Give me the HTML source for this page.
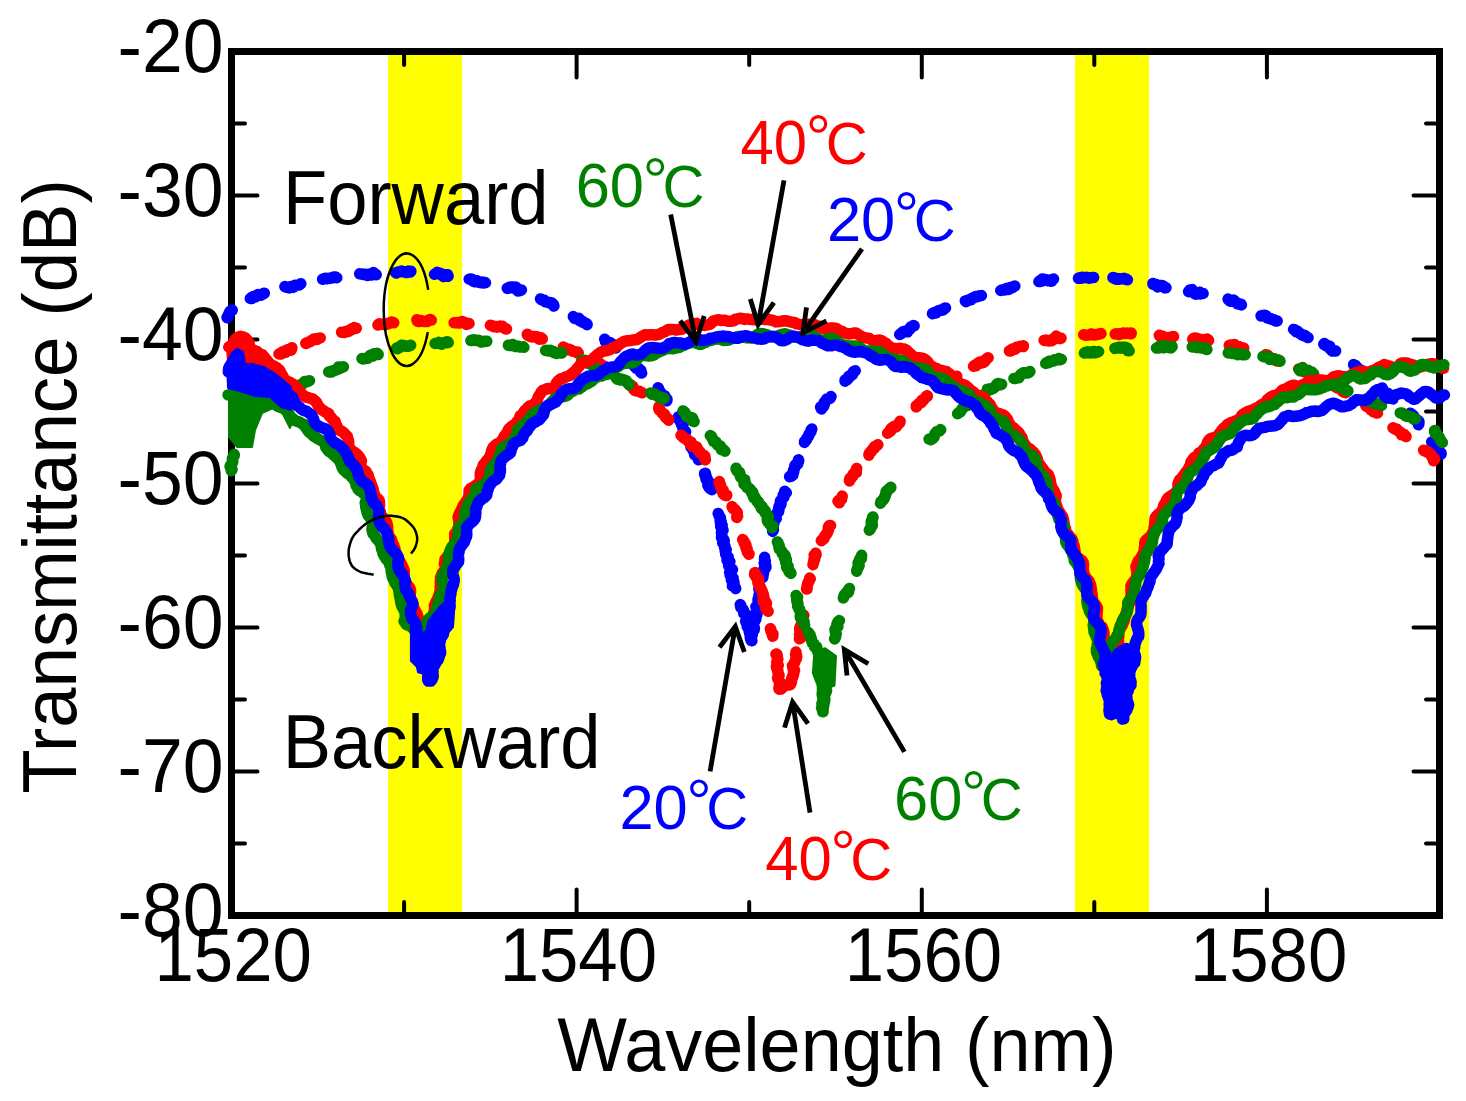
<!DOCTYPE html>
<html><head><meta charset="utf-8"><title>Transmittance vs Wavelength</title>
<style>html,body{margin:0;padding:0;background:#fff;width:1466px;height:1101px;overflow:hidden}</style>
</head><body>
<svg width="1466" height="1101" viewBox="0 0 1466 1101" style="display:block;font-family:&quot;Liberation Sans&quot;,sans-serif"><rect x="0" y="0" width="1466" height="1101" fill="#fff"/>
<rect x="388" y="55" width="74" height="857" fill="#ffff00"/>
<rect x="1075" y="55" width="74" height="857" fill="#ffff00"/>
<rect x="231.5" y="51.5" width="1208" height="864" fill="none" stroke="#000" stroke-width="7"/>
<path d="M404.1 912V902M404.1 55V65M576.6 912V889.5M576.6 55V77.5M749.2 912V902M749.2 55V65M921.8 912V889.5M921.8 55V77.5M1094.3 912V902M1094.3 55V65M1266.9 912V889.5M1266.9 55V77.5M235 843.5H245M1436 843.5H1426M235 771.5H257.5M1436 771.5H1413.5M235 699.5H245M1436 699.5H1426M235 627.5H257.5M1436 627.5H1413.5M235 555.5H245M1436 555.5H1426M235 483.5H257.5M1436 483.5H1413.5M235 411.5H245M1436 411.5H1426M235 339.5H257.5M1436 339.5H1413.5M235 267.5H245M1436 267.5H1426M235 195.5H257.5M1436 195.5H1413.5M235 123.5H245M1436 123.5H1426" stroke="#000" stroke-width="4" stroke-linecap="round" fill="none"/>
<path d="M227.2 317.8 L227.1 317.3 L227.7 317.3 L228.2 316.0 L228.6 314.4 L229.7 312.5 L229.7 311.8 L230.7 310.9 L231.4 310.6 L232.2 310.1M250.3 298.5 L251.7 298.4 L251.9 297.3 L253.0 297.1 L253.4 296.6 L255.0 296.9 L255.7 296.9 L256.6 295.7 L257.0 295.3 L258.2 294.5 L259.2 294.9 L260.3 294.6 L261.0 295.1 L263.0 293.8 L263.3 294.1 L264.3 293.2M284.9 286.6 L286.6 287.3 L288.2 287.6 L289.1 287.9 L290.4 287.1 L291.0 286.6 L292.5 286.7 L293.0 287.4 L293.5 287.1 L294.2 286.1 L295.1 285.2 L297.7 285.0 L299.3 284.9 L300.5 283.7 L300.8 283.8M322.6 279.2 L323.9 278.8 L324.5 278.6 L325.5 278.3 L326.8 278.7 L327.9 278.6 L329.4 278.4 L330.6 277.9 L331.8 278.1 L332.8 277.4 L333.3 277.2 L334.8 276.9 L335.7 277.1 L335.9 277.4 L336.5 277.8 L336.8 277.8M359.7 273.8 L361.5 274.1 L361.7 274.2 L362.9 274.4 L363.2 274.2 L365.4 274.7 L366.3 274.3 L367.4 275.6 L367.8 274.9 L368.8 275.0 L369.6 274.1 L371.2 275.0 L372.2 274.5 L373.2 273.4 L373.4 272.6 L374.6 273.7 L376.2 274.7M395.7 272.8 L396.3 273.0 L397.6 272.2 L399.1 271.9 L401.0 271.3 L401.7 271.1 L402.9 271.7 L403.3 271.8 L404.1 271.7 L404.9 271.9 L406.1 272.5 L406.8 272.0 L407.5 272.4 L408.2 271.1 L410.3 272.0 L410.9 271.2M434.5 274.2 L435.6 273.6 L436.9 272.9 L437.3 272.4 L438.9 273.0 L440.3 273.5 L441.1 274.9 L441.8 274.4 L442.3 274.2 L443.2 274.4 L443.2 275.8 L443.5 276.6 L444.7 275.0 L446.3 274.7 L447.6 274.8 L448.1 276.3M469.2 279.1 L471.1 278.9 L472.4 279.6 L473.2 280.8 L473.6 281.6 L474.4 281.7 L475.3 281.1 L476.3 281.3 L477.1 280.7 L476.5 281.3 L477.8 281.5 L478.5 282.1 L480.8 282.7 L482.4 282.1 L483.6 282.9 L485.2 282.5 L485.5 282.8M507.2 288.2 L507.4 288.4 L507.8 288.3 L509.6 287.2 L511.5 287.0 L513.4 287.0 L513.4 288.2 L514.0 288.2 L514.5 288.0 L515.8 287.1 L516.2 288.5 L517.2 289.7 L517.8 290.8 L519.4 290.2 L519.9 290.7 L521.4 289.9M540.5 298.9 L542.0 299.9 L542.9 300.1 L544.3 300.3 L544.8 300.6 L545.1 301.6 L545.7 301.4 L547.1 302.2 L548.3 302.4 L549.1 303.0 L550.1 302.8 L550.4 302.6 L551.8 302.9 L552.3 303.5 L553.4 304.4 L553.9 306.1M573.3 316.5 L573.7 316.9 L574.5 318.4 L575.4 318.3 L577.3 318.7 L578.7 318.3 L579.6 319.5 L579.6 320.8 L580.5 320.7 L582.0 321.8 L582.6 321.4 L583.4 322.6 L584.6 322.9 L586.5 323.6 L587.1 324.1 L587.1 324.7M604.7 339.3 L605.5 339.9 L605.4 340.5 L605.5 340.8 L605.5 341.7 L606.3 342.5 L608.4 342.5 L610.2 342.5 L611.2 343.5 L611.0 344.5 L611.6 345.2 L612.9 345.0 L614.1 344.8 L614.7 345.1 L615.1 346.5 L616.1 347.9M630.9 361.5 L632.2 362.2 L633.5 362.8 L634.1 363.6 L634.7 364.8 L634.3 366.1 L635.4 367.0 L636.3 368.4 L637.9 368.6 L638.4 368.3 L638.6 368.4 L639.5 369.2 L639.9 370.2 L640.9 370.3 L640.3 371.8 L641.7 373.1M658.1 387.8 L658.5 388.4 L658.2 389.4 L659.2 390.2 L659.7 391.5 L660.5 392.2 L660.8 393.6 L661.6 393.8 L662.0 394.5 L662.2 394.7 L663.2 395.2 L663.7 396.0 L664.8 396.0 L665.5 398.1 L667.0 399.2 L666.9 400.5 L666.8 400.8M678.5 416.9 L678.4 418.7 L679.0 419.4 L679.7 420.3 L680.3 420.6 L680.5 421.8 L681.3 423.5 L681.7 425.0 L682.9 425.6 L682.9 424.7 L682.9 425.0 L682.6 426.5 L683.1 428.9 L683.8 430.1 L684.6 431.2 L685.6 431.7M804.5 442.4 L804.6 441.4 L805.8 440.5 L806.6 439.6 L806.8 438.7 L807.0 437.8 L807.6 437.3 L808.4 436.1 L808.7 436.0 L808.9 435.1 L808.9 434.5 L809.8 433.2 L810.4 432.3 L811.0 431.7 L811.0 430.3 L811.8 429.0M821.5 409.0 L821.4 407.7 L820.6 407.1 L821.6 406.2 L823.4 406.7 L823.7 405.4 L824.4 404.3 L824.2 402.7 L824.6 402.2 L825.4 401.5 L826.0 400.3 L826.7 399.1 L827.6 399.1 L828.3 399.0 L830.1 398.2 L831.0 396.5M845.0 381.3 L845.8 380.5 L845.1 380.0 L846.9 379.8 L847.6 379.2 L848.7 377.4 L848.6 376.4 L849.2 376.3 L850.3 376.4 L849.7 375.7 L850.8 375.4 L851.9 374.8 L852.7 374.3 L853.1 372.5 L853.6 371.4 L855.2 370.7M870.6 355.9 L872.0 355.9 L873.1 355.5 L874.0 354.8 L875.0 353.9 L875.7 353.8 L875.9 353.3 L875.9 353.2 L877.1 352.1 L878.2 351.6 L878.8 350.9 L878.9 349.8 L879.4 349.6 L880.5 349.2 L881.9 348.5 L882.7 347.1M899.7 334.5 L900.4 334.1 L901.1 333.7 L902.1 332.6 L903.0 331.8 L904.5 331.4 L906.5 331.7 L907.5 331.8 L908.1 330.3 L908.2 329.7 L909.8 328.6 L910.0 329.0 L910.9 327.8 L911.1 326.7 L912.5 326.3 L913.3 325.5 L914.1 325.9M932.7 313.2 L932.5 313.7 L933.3 312.8 L934.4 312.6 L935.1 312.6 L936.3 312.9 L936.4 312.3 L937.3 311.7 L937.6 311.0 L939.1 310.6 L940.7 310.2 L942.2 310.3 L942.9 309.9 L943.2 309.7 L944.0 308.5 L945.5 308.0M965.3 300.9 L966.2 301.6 L967.5 300.7 L968.6 300.0 L969.9 299.6 L971.1 299.7 L971.6 298.9 L972.2 298.0 L973.3 298.1 L974.1 297.3 L975.8 297.0 L976.0 296.6 L977.3 296.7 L977.9 296.4 L979.9 295.8 L981.4 295.6M1000.8 290.5 L1002.2 289.9 L1004.4 289.9 L1005.3 289.2 L1006.3 288.7 L1006.1 288.6 L1006.9 288.4 L1008.2 289.5 L1008.9 288.5 L1009.8 288.9 L1010.1 287.5 L1011.3 287.8 L1012.1 287.5 L1012.9 287.5 L1013.6 286.5 L1014.8 286.0M1038.9 281.6 L1039.6 281.0 L1039.6 281.6 L1041.8 280.7 L1042.2 281.0 L1042.9 279.8 L1042.2 279.0 L1044.7 279.4 L1046.7 280.2 L1048.3 280.8 L1048.1 280.1 L1049.5 280.4 L1050.3 281.0 L1051.7 281.2 L1051.7 279.9 L1052.2 279.5 L1053.5 278.9M1078.5 278.3 L1080.8 277.5 L1080.7 277.6 L1080.5 277.9 L1081.0 278.1 L1082.2 277.3 L1083.4 277.7 L1083.8 277.5 L1084.4 277.7 L1086.3 277.3 L1087.4 277.4 L1088.4 278.0 L1088.8 278.2 L1090.3 278.1 L1092.3 277.5 L1093.6 277.4M1112.9 277.6 L1113.0 277.6 L1113.8 277.7 L1114.6 278.6 L1116.6 279.3 L1117.4 278.9 L1117.9 278.4 L1117.8 278.6 L1118.2 278.7 L1119.5 279.2 L1122.1 278.7 L1124.0 278.3 L1124.5 278.5 L1124.6 278.8 L1125.7 279.5 L1125.9 278.9 L1127.4 279.7M1152.9 283.4 L1153.0 284.2 L1154.1 283.9 L1154.9 284.3 L1155.8 284.3 L1156.8 286.0 L1157.7 286.9 L1158.9 286.3 L1160.2 285.5 L1161.5 285.4 L1163.3 286.1 L1163.8 286.6 L1164.8 286.9 L1165.2 287.8 L1166.0 287.7M1188.6 291.7 L1189.7 290.2 L1190.7 290.0 L1191.9 289.6 L1192.5 290.8 L1193.9 291.9 L1194.5 293.5 L1195.9 294.3 L1196.8 293.8 L1198.4 293.0 L1199.6 292.2 L1200.0 292.9 L1199.8 293.3 L1200.0 294.0 L1201.3 293.6 L1203.1 293.5M1228.1 299.1 L1228.5 299.7 L1229.5 300.4 L1229.8 301.0 L1231.0 301.3 L1231.9 301.0 L1233.5 300.6 L1233.5 300.1 L1234.6 300.7 L1234.8 302.0 L1237.1 303.0 L1237.7 304.0 L1239.3 303.9 L1240.0 304.0 L1240.4 304.1 L1241.2 304.3 L1241.4 304.9M1261.1 315.9 L1261.8 315.7 L1263.2 315.5 L1265.0 315.3 L1266.1 315.9 L1266.3 316.9 L1267.0 317.8 L1268.1 318.2 L1269.6 318.5 L1270.8 318.7 L1271.9 319.4 L1273.1 319.6 L1273.6 319.9 L1274.3 319.8 L1275.5 320.9 L1277.2 321.0M1293.6 329.4 L1295.3 330.1 L1295.6 330.5 L1296.3 331.3 L1296.1 331.6 L1297.9 331.4 L1298.9 332.7 L1300.4 333.6 L1301.8 334.8 L1303.0 335.1 L1303.9 335.1 L1304.3 335.8 L1304.9 335.6 L1306.6 336.9 L1307.4 337.3 L1308.0 337.6M1323.8 344.3 L1324.4 343.5 L1324.9 344.4 L1325.5 345.3 L1326.5 346.0 L1327.6 345.7 L1328.4 345.7 L1329.8 346.3 L1329.3 347.7 L1329.6 347.3 L1329.3 348.1 L1330.6 349.2 L1331.6 350.4 L1332.7 351.1 L1334.3 350.8 L1335.6 351.0M1353.6 364.6 L1354.1 365.1 L1354.1 365.6 L1354.2 365.8 L1355.6 365.5 L1356.2 367.3 L1357.4 367.8 L1357.5 368.8 L1357.7 369.1 L1358.8 370.5 L1360.0 370.4 L1361.5 370.5 L1362.0 370.6 L1361.8 372.6 L1362.7 373.9 L1363.6 374.6 L1364.5 375.0M1382.2 388.0 L1382.5 388.6 L1382.8 390.2 L1383.3 390.6 L1384.0 391.5 L1384.1 392.2 L1384.8 392.2 L1385.8 392.7 L1388.0 393.4 L1389.9 395.4 L1390.4 396.5 L1390.6 396.6 L1390.9 396.2 L1391.4 396.8 L1392.3 398.0 L1393.0 398.9M1410.3 413.2 L1410.4 413.6 L1411.6 414.2 L1412.5 415.3 L1413.4 415.6 L1413.3 416.7 L1414.1 417.2 L1414.5 418.2 L1415.1 418.7 L1415.2 419.7 L1416.6 419.5 L1417.9 420.5 L1419.0 421.5 L1418.8 424.1 L1418.5 424.8M1431.7 442.0 L1433.1 443.3 L1434.0 444.1 L1435.1 445.2 L1436.0 445.8 L1437.3 447.6 L1438.0 448.2 L1438.1 448.6 L1438.2 448.2 L1438.5 448.9 L1438.1 449.8 L1438.5 451.2 L1439.1 451.5 L1440.0 452.0 L1441.1 453.1 L1441.1 454.2M691.0 446.7 L691.4 446.5 L691.1 447.2 L693.0 448.5 L692.9 450.0 L693.6 449.8 L693.6 450.8 L694.7 451.2 L694.7 453.2 L694.9 454.3 L694.6 454.7 L696.5 456.0 L697.4 456.6 L698.6 458.7 L698.4 459.8 L699.1 459.6 L700.0 459.2M705.4 473.3 L704.6 473.6 L704.8 475.1 L706.2 476.1 L706.3 477.5 L706.8 478.2 L705.9 479.1 L707.4 479.9 L707.0 480.4 L707.4 481.5 L707.8 481.5 L708.8 481.8 L708.9 482.3 L708.8 484.1 L707.9 485.3 L708.7 486.8 L710.0 488.4 L711.9 489.6 L711.9 489.8M718.2 513.5 L718.8 514.7 L719.4 516.6 L720.4 517.8 L720.2 519.0 L720.6 519.8 L720.2 520.9 L721.3 522.1 L720.4 522.8 L721.3 524.0 L722.0 525.2 L722.2 525.3 L721.6 526.3 L720.7 526.6 L722.1 528.6 L722.8 529.6 L723.0 530.3 L722.0 530.6 L721.5 532.3 L721.7 534.2 L721.8 535.4 L722.0 536.0 L721.7 536.3 L721.5 537.6 L722.3 538.5 L722.8 539.9 L724.0 540.1 L724.2 540.8 L724.3 541.4 L723.3 542.3 L722.7 542.9 L724.0 544.1 L724.8 545.7 L725.0 546.5 L725.0 547.9 L724.7 548.3 L726.1 549.6 L725.2 551.0 L726.0 552.6 L725.7 554.3 L726.2 555.3 L726.6 556.4 L727.5 556.7 L728.2 557.1 L727.9 558.5 L727.1 560.3 L728.0 561.2 L728.5 561.7 L729.9 561.5 L729.1 562.2 L729.2 564.1 L728.6 565.6 L729.2 566.8 L730.6 567.9 L731.2 568.5 L732.5 569.5 L731.5 569.5 L731.6 571.2 L729.7 572.3 L730.3 573.9 L730.1 575.1 L731.3 576.4 L732.4 577.3 L733.1 578.0 L732.8 578.8 L731.4 578.6 L731.4 579.7 L732.0 579.9 L733.3 581.2 L733.9 581.8 L734.0 583.5 L732.7 584.8 L732.5 585.9 L733.7 586.3 L735.2 587.5 L735.7 588.6M740.3 604.6 L740.8 605.6 L741.0 606.8 L740.8 607.3 L741.4 608.1 L741.5 607.7 L742.8 609.3 L743.5 610.2 L743.9 612.3 L743.8 613.3 L744.9 613.7 L745.4 614.5 L746.6 615.0 L746.4 616.3 L747.0 617.9 L746.8 619.1 L746.2 620.6 L745.7 621.1 L745.9 622.2 L747.1 623.0 L747.9 624.6 L747.8 625.3 L747.5 625.4 L747.2 626.5 L747.5 626.7 L748.0 628.0 L748.5 628.3 L749.0 629.8 L749.3 631.6 L749.7 633.4 L750.1 634.8 L751.1 635.7 L751.1 636.8 L751.5 638.3 L751.0 639.3 L751.6 640.0 L751.1 640.4 L751.8 640.8 L751.6 640.6 L751.5 639.0 L750.3 638.1 L750.6 636.8 L751.0 636.2 L751.4 635.3 L752.4 634.3 L752.1 633.1 L752.8 631.9 L752.8 631.1 L754.2 629.8 L754.4 628.1 L754.0 627.0 L753.7 625.4 L753.0 625.0 L753.2 623.4 L753.2 623.1 L754.1 621.9 L754.3 621.3 L755.1 620.5 L755.8 619.1 L755.9 618.6 L755.4 617.4 L755.0 616.9 L755.7 615.7 L756.5 615.2 L757.0 614.6 L757.0 612.8 L756.9 612.2 L756.5 611.1 L756.8 610.6 L757.5 609.4 L757.6 608.7 L757.2 607.5 L755.9 606.8 L757.3 605.4 L757.7 604.7 L759.0 602.9M755.7 615.7 L756.5 615.2 L757.0 614.6 L757.0 612.8 L756.9 612.2 L756.5 611.1 L756.8 610.6 L757.5 609.4 L757.6 608.7 L757.2 607.5 L755.9 606.8 L757.3 605.4 L757.7 604.7 L759.0 602.9 L758.1 602.1 L758.5 600.9 L758.2 600.3 L758.0 599.8 L758.2 599.1 L758.4 598.1 L758.9 596.5 L759.1 594.3 L760.4 593.2 L760.4 591.2 L760.2 590.6 L759.0 589.5 L758.9 589.3 L759.4 588.1 L759.5 586.6M762.9 577.3 L762.8 575.2 L763.4 573.8 L762.8 572.8 L762.7 573.5 L762.5 572.2 L763.2 571.0 L763.9 569.2 L765.1 568.6 L766.0 567.2 L765.7 565.4 L765.1 563.7 L764.2 563.2 L764.8 562.2 L765.0 561.4 L765.3 560.9 L764.7 560.1 L764.6 558.9 L764.6 557.2M772.7 531.4 L773.4 529.9 L773.2 528.7 L773.3 527.7 L772.7 527.1 L772.8 526.2 L772.7 525.5 L773.7 524.3 L773.8 523.7 L773.8 522.3 L773.5 521.7 L773.8 520.1 L774.8 520.3 L775.2 519.4 L776.2 518.7 L775.7 517.1 L775.8 515.7 L776.1 514.9 L776.4 513.7 L777.2 513.4 L777.5 512.6 L778.5 511.7 L778.9 509.8 L778.7 508.3 L778.9 507.2 L779.2 506.2 L780.3 505.4 L781.0 504.5 L781.0 503.8 L780.8 503.0 L780.3 501.8 L780.5 500.8 L781.7 499.6 L782.9 498.1 L783.7 497.3 L784.2 496.2 L783.9 496.2 L783.1 495.3 L783.8 494.8 L784.4 493.9 L786.3 492.7 L785.1 492.1 L784.7 491.3M789.6 476.7 L791.1 476.4 L791.4 475.8 L792.8 475.1 L792.6 473.5 L793.7 472.0 L793.4 470.6 L794.2 469.2 L794.2 469.0 L794.5 468.4 L794.8 467.5 L794.6 467.0 L795.2 465.0 L796.1 464.5 L796.7 463.4 L797.6 464.2 L798.0 462.6 L798.7 460.8 L798.5 459.8" fill="none" stroke="#0000ff" stroke-width="11.5" stroke-linecap="round" stroke-linejoin="round"/>
<path d="M243.5 368.4 L244.2 368.2 L245.3 366.9 L246.0 366.4 L246.1 365.9 L246.8 365.7 L248.5 366.0 L250.4 365.6 L251.6 365.0 L252.2 364.4 L252.2 364.0 L252.7 364.4 L253.3 363.7 L255.1 362.8 L256.5 362.0 L257.8 361.4M279.0 354.0 L279.9 353.6 L280.9 354.1 L280.8 353.4 L282.2 353.3 L282.7 351.7 L284.2 352.0 L284.8 352.4 L285.6 352.3 L285.5 350.9 L286.6 350.0 L287.9 349.7 L290.1 350.3 L291.1 350.1 L291.5 349.2 L291.6 348.1 L291.9 347.7M305.8 343.4 L307.2 343.0 L308.2 342.3 L308.7 341.9 L309.6 341.8 L310.2 341.8 L311.1 341.0 L312.1 340.2 L313.7 339.2 L314.5 338.9 L316.0 338.8 L316.4 338.8 L317.1 339.5 L316.9 339.4 L318.5 338.5 L320.2 337.9M341.6 332.2 L343.1 332.3 L344.5 332.5 L345.6 331.4 L347.1 331.7 L348.0 330.9 L348.9 331.3 L349.7 330.0 L351.0 329.6 L351.9 328.8 L352.3 329.3 L352.8 329.1 L353.8 328.7 L354.5 327.8 L355.4 328.3 L356.3 328.2M377.9 325.0 L379.2 323.8 L380.2 324.1 L382.2 324.4 L381.8 324.2 L382.7 324.2 L382.6 324.3 L385.0 324.6 L386.4 324.2 L387.6 323.9 L388.5 323.2 L389.9 323.2 L390.8 322.3 L391.4 322.0 L390.8 322.3 L392.0 322.4 L393.7 322.7M416.9 319.7 L417.4 321.2 L418.3 321.6 L419.3 321.5 L420.4 320.8 L421.0 320.6 L421.8 321.2 L422.5 321.1 L424.4 321.5 L426.0 321.4 L426.9 321.5 L427.2 321.5 L427.7 320.7 L428.7 320.3 L429.9 319.5 L430.3 320.2 L431.3 320.1M454.1 322.8 L455.3 322.8 L456.7 322.6 L457.7 322.7 L458.4 322.6 L458.8 323.1 L459.4 323.0 L460.3 322.2 L461.9 321.5 L463.5 322.1 L464.7 322.3 L465.4 323.3 L466.1 323.5 L466.5 324.3 L467.9 323.8 L469.0 323.6M490.4 325.3 L490.9 325.4 L492.9 326.2 L493.8 326.8 L495.4 326.4 L496.1 326.6 L496.8 326.6 L497.3 327.1 L498.3 326.8 L499.5 326.5 L500.1 326.5 L500.6 326.1 L501.0 326.6 L502.3 326.3 L503.9 327.7 L505.3 328.8 L506.5 329.0M527.3 334.3 L527.5 335.1 L528.7 335.6 L529.5 335.8 L530.8 336.7 L531.7 336.3 L532.9 336.9 L534.1 336.5 L535.7 336.7 L537.0 336.8 L537.5 337.3 L538.5 338.7 L539.1 339.2 L541.0 338.7 L541.1 337.7 L542.3 338.9M563.3 347.1 L564.5 347.9 L565.0 348.0 L565.9 349.2 L567.1 349.2 L568.6 349.7 L569.2 349.4 L569.6 349.7 L569.9 350.1 L571.0 349.9 L572.0 351.0 L572.5 351.2 L574.6 351.6 L576.3 352.0 L577.4 352.0 L577.6 352.9 L578.3 352.8M597.0 364.1 L597.9 364.1 L599.4 363.7 L600.3 363.8 L600.4 363.9 L600.4 364.8 L601.4 365.3 L603.8 366.0 L604.7 366.9 L606.3 367.8 L605.5 368.3 L607.4 368.2 L607.4 369.2 L609.4 369.6 L609.6 369.8 L611.7 371.1M629.4 384.9 L630.8 385.2 L630.9 385.8 L631.2 386.4 L631.2 386.2 L631.9 386.1 L632.8 386.3 L633.4 388.0 L633.7 389.4 L635.1 390.6 L636.7 390.9 L638.2 391.4 L639.3 391.2 L639.9 391.7 L640.8 392.2 L642.1 392.8M659.0 406.6 L659.2 407.5 L658.7 408.4 L659.3 409.8 L659.4 410.0 L660.6 411.1 L661.0 411.3 L662.6 413.4 L664.0 413.9 L664.9 414.9 L664.7 415.7 L665.1 416.7 L666.2 417.9 L667.8 418.8 L668.7 419.3 L668.6 420.2M681.0 435.3 L682.6 436.6 L683.3 437.5 L684.3 438.1 L686.1 439.2 L687.3 439.4 L687.9 440.3 L688.0 441.0 L688.9 442.1 L689.0 441.3 L690.5 442.3 L691.1 442.2 L692.1 444.7 L690.9 444.9 L692.0 446.3 L693.6 446.3M887.6 433.2 L889.4 431.9 L890.0 431.0 L890.7 431.0 L890.2 430.4 L890.9 428.9 L892.3 427.7 L893.8 426.6 L894.6 427.1 L895.2 426.9 L896.2 426.9 L897.2 425.5 L897.6 424.4 L898.1 424.0 L898.7 423.7 L899.7 422.7 L900.1 421.2M916.2 406.9 L916.7 406.4 L916.4 405.7 L918.2 404.5 L919.7 402.7 L921.4 402.5 L921.5 402.2 L921.1 401.7 L922.0 400.2 L922.2 400.0 L923.6 400.1 L924.2 399.0 L925.6 397.2 L926.7 396.0 L927.3 395.8 L927.4 396.3M944.0 384.8 L944.9 382.9 L945.4 382.2 L945.3 381.2 L946.6 382.2 L948.3 382.2 L949.1 382.1 L949.2 381.4 L949.4 380.2 L950.5 379.4 L951.7 379.1 L953.6 379.1 L955.0 378.7 L955.9 378.5 L955.4 377.8 L955.8 377.4 L956.8 376.3M973.5 366.3 L974.8 365.3 L976.1 365.6 L977.3 363.7 L978.3 363.3 L979.6 362.1 L980.9 362.2 L980.9 362.4 L981.2 362.7 L981.6 362.9 L983.6 362.4 L985.0 361.2 L985.3 360.4 L985.3 359.7 L986.0 359.4 L987.1 358.4 L988.1 357.8M1009.4 350.9 L1011.0 350.9 L1011.4 349.8 L1012.4 350.0 L1012.6 349.1 L1013.9 349.1 L1014.5 348.8 L1015.1 349.2 L1015.3 348.9 L1016.0 348.3 L1016.4 347.7 L1016.6 347.3 L1018.5 347.0 L1020.6 346.2 L1023.2 346.6 L1023.4 345.8M1044.1 340.4 L1045.9 340.1 L1047.4 340.8 L1049.4 340.9 L1050.6 340.4 L1051.1 339.9 L1051.4 339.8 L1051.3 340.8 L1052.3 340.4 L1053.7 339.4 L1055.2 337.3 L1056.1 336.3 L1056.8 336.8 L1057.9 338.0 L1060.1 338.6 L1061.0 338.2M1083.7 334.7 L1084.2 334.8 L1084.9 335.0 L1086.2 335.2 L1089.1 335.0 L1090.4 334.7 L1091.5 334.4 L1091.4 333.9 L1091.8 334.2 L1093.1 334.5 L1094.0 334.9 L1094.4 335.0 L1095.2 334.9 L1097.1 334.5 L1099.6 333.9 L1101.0 333.6M1115.2 334.0 L1116.3 333.7 L1117.5 334.1 L1117.8 334.2 L1118.9 334.5 L1119.5 334.3 L1120.0 334.3 L1120.3 333.6 L1122.2 333.4 L1123.1 333.2 L1124.2 333.5 L1123.5 333.2 L1125.4 333.5 L1127.3 333.1 L1130.1 333.5 L1131.2 332.9 L1131.1 333.8 L1130.8 333.7M1159.3 335.3 L1160.0 336.2 L1160.2 336.1 L1161.9 337.1 L1163.0 336.5 L1163.8 337.4 L1163.7 337.2 L1164.3 338.0 L1165.3 337.9 L1166.7 337.7 L1168.3 337.6 L1168.8 337.6 L1171.0 337.8 L1171.9 336.9 L1173.5 336.5 L1173.4 336.6M1192.7 339.1 L1193.3 338.6 L1193.5 338.7 L1194.5 338.1 L1196.8 338.2 L1197.9 338.8 L1199.1 339.1 L1199.6 339.8 L1200.6 339.8 L1201.0 339.9 L1201.1 339.4 L1201.7 339.8 L1202.8 340.0 L1204.1 340.4 L1205.5 339.7 L1207.0 339.0 L1208.6 340.3M1229.3 345.3 L1231.4 344.9 L1233.9 345.2 L1234.4 344.5 L1235.8 345.8 L1235.7 346.2 L1237.6 347.1 L1237.4 346.7 L1238.7 346.6 L1238.6 347.2 L1239.0 347.2 L1240.1 347.5 L1241.6 347.6 L1243.7 348.1 L1243.4 348.4 L1243.0 347.9M1265.7 354.8 L1267.1 354.9 L1268.0 355.5 L1268.8 356.8 L1269.0 356.6 L1269.5 357.3 L1269.9 357.2 L1271.7 358.7 L1273.4 358.5 L1274.8 359.6 L1275.1 359.4 L1274.9 359.4 L1275.2 360.1 L1275.8 360.5 L1277.5 361.1 L1279.3 360.6M1298.7 368.9 L1299.8 369.5 L1301.5 369.8 L1302.0 370.4 L1302.8 370.6 L1303.8 371.5 L1304.6 371.8 L1305.7 372.0 L1307.0 372.1 L1308.5 373.3 L1309.5 373.1 L1309.4 373.6 L1309.7 373.4 L1310.2 374.8 L1312.1 374.5 L1313.3 374.7 L1313.7 374.8M1332.7 384.9 L1334.1 385.0 L1334.1 385.6 L1335.5 386.6 L1335.8 387.2 L1337.2 387.9 L1337.5 387.7 L1338.6 388.4 L1339.5 388.5 L1340.5 388.8 L1341.7 389.8 L1342.7 391.4 L1343.8 392.1 L1343.7 392.2 L1344.3 392.1 L1345.5 392.7M1365.6 405.3 L1366.9 406.7 L1366.4 406.5 L1366.9 406.4 L1367.6 406.3 L1369.5 408.0 L1370.4 408.8 L1371.1 410.0 L1371.6 409.6 L1372.2 409.9 L1372.3 410.2 L1373.0 411.1 L1373.5 411.8 L1375.2 412.1 L1376.2 413.0 L1377.5 413.0M1393.0 427.8 L1394.5 428.7 L1395.8 429.0 L1396.4 429.1 L1396.8 429.2 L1396.5 429.7 L1396.9 430.0 L1398.0 430.6 L1400.0 432.1 L1401.2 432.9 L1401.4 434.7 L1402.0 434.3 L1403.1 434.7 L1404.4 434.6 L1404.8 435.3 L1406.1 436.6M1423.6 450.3 L1424.4 450.9 L1425.2 450.9 L1424.6 450.6 L1425.4 450.5 L1426.8 452.0 L1428.3 452.0 L1429.2 453.2 L1429.2 452.8 L1430.6 454.4 L1431.3 455.8 L1433.0 457.6 L1433.0 458.4 L1434.4 458.6 L1434.5 459.4 L1433.8 459.9 L1433.6 460.7M799.4 638.8 L801.0 637.7 L800.1 636.6 L800.0 635.5 L799.5 634.8 L800.2 633.4 L799.9 632.7 L799.9 631.9 L799.8 630.6 L800.0 629.9 L799.9 628.7 L799.7 628.4 L800.2 626.8 L800.7 625.7 L801.2 624.9 L801.6 624.0 L802.5 623.3 L803.0 622.0 L803.5 620.6 L802.3 619.1 L802.6 617.8 L802.9 617.2 L803.2 616.4 L803.8 615.4 L802.9 614.5M692.0 446.3 L693.6 446.3 L696.4 446.7 L696.2 447.4 L697.2 448.0 L697.4 448.9 L698.2 450.0 L699.0 451.2 L699.1 451.6 L699.8 451.6 L700.0 451.9 L700.3 453.1 L701.4 453.9 L701.8 454.3 L703.2 455.0 L704.0 455.5 L704.9 456.4 L704.5 457.4 L705.0 458.9 L705.4 459.8M719.4 481.6 L718.8 482.2 L719.6 483.1 L719.6 483.6 L720.3 484.6 L720.6 485.3 L720.7 487.1 L721.3 488.3 L721.7 489.3 L722.5 489.5 L723.1 490.1 L722.1 491.1 L722.8 492.2 L723.2 494.0 L725.4 495.4 L726.2 495.1 L726.7 495.1 L726.5 495.6M732.1 506.6 L732.7 507.8 L733.0 508.4 L733.4 508.8 L734.9 509.5 L736.1 511.1 L737.3 512.5 L737.3 514.0 L737.3 515.7 L737.6 516.2 L737.2 515.7 L737.0 516.3 L736.8 517.4M742.7 539.6 L744.2 541.8 L744.0 542.9 L745.5 544.1 L745.0 543.9 L745.8 545.0 L745.4 545.4 L745.8 546.8 L746.0 547.8 L747.1 548.8 L746.8 550.0 L747.4 551.5 L747.5 552.5 L749.0 553.8 L748.9 554.3M754.8 572.6 L754.9 573.5 L754.6 574.9 L756.0 576.2 L756.2 577.2 L757.4 577.2 L758.1 577.8 L758.5 579.1 L758.5 580.6 L757.9 580.5 L757.9 581.3 L757.9 582.8 L758.7 584.9 L758.8 585.2 L759.9 586.3 L760.2 586.9 L760.7 588.6 L760.5 588.5 L761.2 589.1 L761.5 589.9 L762.1 591.0 L762.6 592.8 L763.3 594.4 L763.2 594.6 L763.1 595.8 L763.6 596.0 L764.1 598.2 L763.5 598.3 L763.1 600.1 L763.1 601.5 L764.1 602.0 L765.6 601.8 L766.3 602.8 L766.4 603.9 L766.2 605.3 L765.7 605.1 L766.0 607.0 L765.8 608.2 L767.2 610.2 L768.2 611.3M770.4 628.7 L770.7 629.2 L771.0 631.2 L771.8 633.0 L773.0 634.0 L772.3 634.8 L772.8 636.2M776.2 654.0 L775.9 654.2 L777.0 654.6 L777.0 654.7 L777.3 656.0 L777.4 658.0 L777.8 659.3 L777.2 660.3 L777.1 660.8 L776.8 662.4 L777.5 664.1 L778.0 664.9 L778.1 665.1 L777.5 665.5 L776.4 666.6 L776.8 668.2 L777.2 669.2 L777.8 669.9 L777.7 671.1 L778.1 672.5 L778.1 673.7 L778.8 674.5 L779.0 675.1 L779.0 676.0 L778.0 677.2 L777.6 678.3 L778.3 679.7 L779.2 681.0 L779.9 682.1 L779.6 684.4 L779.5 685.8 L779.4 687.5 L779.0 687.1 L779.0 687.9 L778.9 688.3 L779.4 689.2 L779.0 688.9 L779.3 688.6 L779.7 688.8 L780.6 689.1 L781.3 688.9 L782.3 687.7 L783.8 686.6 L784.8 685.7 L786.1 685.3 L787.6 684.8 L789.0 685.0 L789.8 684.7 L790.4 684.5 L791.2 682.6 L791.5 682.1 L791.5 680.7 L791.6 679.3 L791.7 679.2 L791.6 678.9 L792.0 678.5 L792.1 677.1 L793.0 676.6 L793.2 675.2 L793.7 673.8 L793.5 672.0 L794.2 670.7 L794.6 670.4 L793.9 669.6 L793.9 669.6 L792.9 667.9 L793.3 666.4 L792.6 665.6 L793.5 664.5 L794.0 664.1 L794.7 661.9 L795.5 660.4 L795.7 659.3 L796.3 658.6 L796.0 658.6 L796.5 658.0 L796.4 657.4 L796.7 656.4 L796.6 655.8 L795.6 654.5 L796.1 653.5 L796.0 652.1M806.6 589.1 L807.0 588.9 L806.9 588.1 L806.9 587.4 L807.2 586.1 L807.6 584.0 L807.8 583.6 L808.1 582.3 L809.0 581.4 L809.6 579.1 L810.2 578.9 L809.7 578.1M813.0 564.7 L813.3 562.8 L813.7 562.5 L813.8 560.9 L813.9 560.4 L814.0 559.2 L814.8 559.0 L815.0 557.0 L814.4 555.7 L814.2 555.0 L815.3 555.2 L815.6 555.9 L816.1 554.7 L815.8 553.2M821.3 540.7 L821.8 540.1 L822.7 539.7 L823.2 538.9 L824.1 538.4 L824.3 537.1 L824.8 536.3 L825.7 534.7 L826.2 534.7 L826.6 533.8 L827.3 533.0 L827.8 531.3 L828.5 530.0 L828.2 529.1 L828.2 528.5 L828.4 527.2 L828.7 526.5 L829.3 525.5 L830.6 525.5M839.3 502.8 L838.0 501.1 L838.9 501.2 L839.1 500.1 L840.7 499.4 L841.6 499.2 L841.7 497.6 L842.0 497.4 L842.2 496.1M849.5 480.9 L849.5 479.5 L850.1 479.0 L850.1 478.4 L851.9 477.4 L852.2 476.2 L852.7 476.1 L852.7 475.4 L853.2 474.2 L854.3 473.1 L855.8 472.5 L856.3 472.3 L856.1 471.0 L856.3 470.2 L856.6 468.4M868.9 455.2 L868.9 454.5 L869.7 452.9 L870.3 452.3 L871.0 451.9 L871.5 450.9 L872.2 450.1 L873.1 448.7 L874.2 448.2 L874.1 447.6 L874.4 446.9 L875.3 446.4 L877.8 444.7" fill="none" stroke="#ff0000" stroke-width="11.5" stroke-linecap="round" stroke-linejoin="round"/>
<path d="M231.3 470.7 L232.0 469.7 L231.7 468.2 L231.4 467.6 L230.7 467.4 L230.2 467.0 L230.1 466.1 L230.8 464.9 L232.0 463.3 L232.8 461.8 L232.5 460.6 L232.5 459.4 L232.4 458.4 L233.2 456.9 L234.1 456.0 L234.3 454.8 L234.2 454.4M242.4 435.5 L243.3 434.2 L243.2 433.1 L243.4 432.3 L243.9 432.1 L245.1 430.4 L245.0 429.4 L245.5 427.5 L246.1 427.1 L246.8 426.1 L247.3 425.3 L247.7 424.6 L247.9 423.5 L247.2 423.0 L247.4 421.8 L248.1 421.0M261.2 403.9 L263.2 404.0 L264.1 403.7 L265.5 402.5 L265.7 402.2 L265.9 401.3 L266.3 400.8 L266.8 399.7 L268.2 399.1 L268.5 398.8 L269.9 398.5 L270.8 398.1 L272.7 398.0 L273.1 397.0 L273.4 395.2 L273.1 395.1M294.9 387.4 L295.3 387.0 L295.9 386.5 L297.2 386.0 L299.3 385.2 L300.9 384.6 L302.1 384.4 L302.3 384.4 L303.3 382.7 L304.0 382.4 L304.9 381.4 L305.3 381.7 L306.7 381.8 L307.8 381.4 L308.7 381.0 L309.5 380.7M328.7 372.0 L330.1 371.8 L331.6 372.0 L332.6 370.7 L333.0 370.7 L333.6 370.5 L334.4 370.6 L336.4 369.7 L337.9 369.2 L338.8 368.2 L339.0 367.0 L338.4 366.9 L339.8 367.7 L340.7 368.0 L342.7 367.1 L343.4 366.8M362.0 358.6 L363.0 358.9 L365.4 358.5 L367.1 358.1 L368.0 358.2 L368.9 357.2 L369.4 356.5 L370.1 355.3 L370.5 355.6 L371.7 355.9 L372.6 356.1 L373.5 355.4 L374.2 353.7 L375.5 354.0 L377.1 353.3 L378.2 354.5M396.6 348.0 L397.1 347.8 L397.3 348.8 L398.0 347.5 L399.7 347.6 L401.2 346.0 L401.3 346.1 L401.5 345.3 L401.9 345.2 L404.1 345.6 L405.7 345.9 L406.5 346.3 L407.4 346.2 L408.1 346.3 L409.7 345.7 L410.2 345.4 L410.7 345.3M435.1 343.5 L435.8 343.2 L436.6 343.2 L437.9 343.2 L438.9 342.5 L439.7 343.2 L440.2 343.8 L441.7 344.2 L442.7 343.0 L443.7 342.8 L444.4 342.5 L445.7 342.4 L446.8 341.7 L447.7 341.7 L447.5 342.8 L448.2 342.5M470.9 340.5 L471.5 340.4 L472.2 340.0 L473.0 340.4 L474.4 339.8 L476.2 340.5 L477.9 340.4 L478.3 340.3 L479.4 340.6 L479.5 341.0 L481.3 342.1 L481.9 341.9 L483.3 341.5 L484.1 341.3 L484.9 341.4 L486.8 341.3M508.4 345.2 L509.5 345.3 L510.2 345.6 L512.1 344.8 L512.3 344.7 L512.6 344.5 L512.6 345.7 L514.8 346.2 L515.8 346.6 L517.2 346.2 L517.3 346.4 L518.2 346.5 L519.4 347.0 L520.7 346.9 L522.4 347.0 L523.3 346.8 L523.9 347.3M545.6 350.5 L546.6 350.3 L548.1 350.9 L549.7 350.2 L551.3 350.8 L551.2 351.0 L551.6 350.7 L551.6 350.9 L553.0 351.1 L553.7 352.6 L555.3 352.9 L556.0 353.5 L556.3 353.4 L557.3 353.2 L558.8 353.1 L560.9 352.2 L561.9 353.0M581.7 360.6 L582.6 360.8 L584.7 360.3 L585.4 361.3 L586.5 361.7 L586.2 361.9 L586.8 362.7 L587.5 363.2 L588.6 363.4 L589.8 362.8 L590.6 363.9 L591.5 364.5 L592.4 365.4 L593.1 365.6 L593.9 367.2 L595.0 368.0M615.7 377.1 L616.4 378.3 L617.3 379.2 L618.5 379.1 L619.1 378.7 L619.8 379.8 L620.4 380.0 L621.0 379.7 L622.1 379.2 L623.0 379.6 L624.8 380.0 L625.7 381.0 L626.4 380.8 L626.8 382.4 L627.8 383.1 L628.9 384.5 L629.5 384.2M650.6 392.9 L651.2 393.5 L652.2 394.2 L653.6 394.3 L654.0 393.8 L654.2 393.7 L654.1 393.7 L655.6 395.0 L657.2 395.8 L658.6 396.9 L659.5 396.5 L659.8 396.8 L661.5 397.9 L662.7 398.9 L663.9 398.0 L664.2 398.3M683.6 411.3 L683.0 410.9 L683.9 411.9 L684.8 412.4 L685.6 413.8 L686.0 414.8 L686.4 416.3 L687.9 416.3 L688.7 417.3 L690.2 417.4 L691.0 417.6 L692.6 418.1 L692.9 419.1 L692.5 420.8 L692.8 421.0 L694.1 421.6M710.3 435.6 L710.8 435.9 L711.6 436.6 L712.5 438.8 L713.5 440.2 L713.7 441.4 L715.0 441.5 L715.2 442.2 L716.0 441.9 L715.6 442.5 L716.4 443.1 L717.6 445.0 L719.1 445.8 L719.9 445.9 L720.0 445.8 L720.5 446.1 L721.1 447.6M929.1 439.0 L929.8 439.3 L931.0 439.7 L931.8 438.9 L933.1 438.3 L933.4 437.5 L934.1 436.9 L934.7 435.0 L935.0 433.6 L936.7 431.8 L937.3 431.6 L938.6 431.2 L939.4 431.0 L939.9 430.6 L940.5 429.7 L940.7 429.8M957.6 413.8 L957.8 413.6 L959.2 412.5 L959.3 412.5 L960.2 412.0 L960.2 411.5 L961.1 410.6 L961.4 409.9 L961.5 409.7 L962.9 407.9 L964.1 407.0 L965.7 405.5 L967.4 405.6 L968.5 403.9 L969.5 403.9 L969.4 404.0M986.7 391.4 L987.4 390.6 L987.5 389.2 L989.2 389.1 L989.7 388.9 L990.5 389.5 L990.9 389.1 L993.1 388.5 L994.4 387.5 L995.9 386.2 L996.0 385.4 L997.0 384.1 L997.6 383.6 L998.3 383.5 L999.0 384.1 L1000.3 384.8 L1001.6 384.3M1013.9 378.5 L1015.7 378.4 L1017.3 377.7 L1018.8 377.8 L1019.1 377.1 L1019.7 376.2 L1020.3 375.1 L1021.1 374.2 L1022.4 373.6 L1023.4 372.8 L1025.3 372.8 L1026.5 372.8 L1027.7 373.1 L1028.4 372.6 L1029.2 372.3 L1029.9 371.5M1045.7 363.5 L1046.8 362.5 L1048.6 362.8 L1049.5 361.7 L1049.4 361.2 L1049.9 361.2 L1051.6 361.2 L1053.6 361.0 L1053.8 360.3 L1054.6 359.7 L1055.9 360.2 L1058.2 359.0 L1058.9 359.3 L1059.0 358.4 L1060.0 359.7 L1061.3 359.3M1084.4 353.1 L1085.6 352.3 L1087.4 352.2 L1087.4 351.8 L1087.9 352.1 L1087.6 352.5 L1089.8 352.8 L1090.9 352.9 L1092.5 351.7 L1093.4 351.5 L1094.3 351.4 L1094.0 352.2 L1094.7 352.8 L1095.9 352.6 L1098.6 351.6M1114.9 348.2 L1115.1 348.5 L1117.2 347.7 L1117.5 347.4 L1119.1 347.3 L1119.1 347.9 L1120.1 347.8 L1120.6 348.1 L1121.6 347.7 L1122.5 347.3 L1124.4 347.2 L1125.7 347.4 L1126.8 348.0 L1127.3 348.2 L1127.3 349.1 L1127.0 349.6 L1127.8 350.6 L1129.1 350.8M1156.5 348.1 L1157.8 347.5 L1159.0 348.0 L1158.9 346.6 L1160.1 346.1 L1161.1 346.6 L1162.7 347.7 L1163.3 347.8 L1164.7 346.9 L1166.2 345.8 L1167.5 346.3 L1168.6 346.4 L1168.9 347.6 L1170.0 347.8 L1170.9 347.9 L1172.1 346.6M1192.2 347.0 L1193.7 347.0 L1194.9 346.9 L1196.8 347.6 L1197.5 347.5 L1198.0 347.5 L1198.1 347.2 L1199.5 347.8 L1201.4 347.8 L1203.0 348.3 L1203.5 348.3 L1204.6 348.3 L1205.5 348.0 L1206.1 348.5 L1206.5 348.9 L1206.9 349.6M1228.3 352.9 L1228.6 352.5 L1229.9 352.7 L1230.4 352.7 L1232.0 353.6 L1233.4 353.5 L1235.2 353.6 L1235.8 353.8 L1237.1 354.5 L1237.8 354.7 L1239.0 354.0 L1239.9 354.0 L1241.1 354.1 L1242.6 354.8 L1243.9 354.8 L1244.8 354.7 L1245.2 354.6M1263.0 356.6 L1264.1 356.8 L1265.7 356.2 L1266.1 356.5 L1268.5 357.6 L1269.0 358.7 L1269.7 359.4 L1270.2 358.8 L1270.8 358.4 L1272.2 358.6 L1272.2 358.7 L1273.1 359.2 L1274.3 358.9 L1275.6 359.3 L1277.8 359.8 L1278.6 360.3 L1280.0 361.2M1299.2 369.3 L1299.9 370.7 L1301.2 370.0 L1301.4 369.1 L1302.4 367.5 L1302.6 368.6 L1303.7 369.6 L1305.5 370.5 L1307.9 370.2 L1309.1 370.8 L1309.2 371.5 L1309.8 372.1 L1310.2 372.0 L1311.9 372.0 L1311.8 372.5 L1313.4 373.9 L1313.6 373.9M1333.4 383.6 L1333.9 384.1 L1334.4 384.5 L1335.4 383.9 L1337.0 385.1 L1337.5 385.5 L1338.6 386.8 L1339.9 386.8 L1340.6 386.4 L1340.7 386.3 L1341.5 386.9 L1343.5 388.4 L1344.1 389.1 L1345.0 390.0 L1346.8 390.3 L1347.9 390.9M1366.1 399.0 L1366.8 400.2 L1367.3 400.7 L1369.1 401.3 L1370.4 401.4 L1371.0 401.2 L1372.7 401.2 L1374.3 401.9 L1375.4 402.9 L1375.2 403.5 L1376.1 403.9 L1377.1 403.7 L1378.6 404.3 L1379.4 404.5 L1380.2 404.7 L1381.0 405.0 L1381.5 405.5M1400.2 412.9 L1402.0 412.9 L1402.7 413.8 L1404.1 414.3 L1405.5 415.8 L1406.7 416.2 L1407.0 415.9 L1407.4 416.2 L1409.0 416.1 L1411.1 417.0 L1412.7 417.4 L1413.2 418.8 L1413.3 418.6 L1414.0 418.7 L1415.5 418.7M1434.6 430.5 L1435.2 430.5 L1434.6 431.8 L1435.0 433.0 L1436.1 434.6 L1437.2 434.6 L1438.0 435.5 L1438.3 436.1 L1439.2 437.3 L1440.0 439.0 L1440.6 440.2 L1441.6 441.5 L1441.6 442.0 L1442.3 442.4 L1442.4 442.5M719.9 445.9 L720.0 445.8 L720.5 446.1 L721.1 447.6 L721.1 448.2 L721.3 449.4 L721.4 449.6 L724.0 450.2 L725.0 451.2M736.1 468.2 L736.2 469.4 L737.0 470.9 L737.6 471.4 L737.9 471.1 L738.6 471.7 L739.5 472.4 L740.0 474.2 L739.9 474.5 L740.2 475.9 L740.7 477.2 L742.6 478.7 L743.2 479.3 L744.6 479.7 L744.5 480.3 L744.9 481.8 L744.7 482.5 L744.0 484.0 L745.1 484.1 L745.4 484.5 L746.1 484.6 L746.0 485.6 L747.0 487.4 L748.4 488.2 L749.5 488.7 L749.9 489.0 L750.9 490.1 L751.3 491.9 L751.7 491.9 L752.3 492.4 L752.7 492.1 L753.2 494.2 L753.1 495.9 L753.8 497.6 L754.5 497.5 L754.9 497.3 L755.0 497.2 L755.7 498.7 L756.4 499.7 L757.1 501.5 L758.0 501.4 L758.5 502.1 L758.8 503.2 L759.4 504.6 L760.6 505.4 L761.8 506.2 L761.8 507.1 L761.4 508.5 L762.3 508.5 L762.7 509.2 L764.2 509.7 L763.9 510.9 L765.2 511.2 L765.1 512.9 L766.0 513.7 L766.4 514.8 L767.8 515.4 L768.1 516.4 L768.2 517.7 L767.4 518.4 L767.3 519.7 L767.3 520.4 L767.8 521.7 L768.9 522.6 L769.6 523.9 L770.3 524.4 L771.2 525.3 L772.4 525.6 L772.9 526.2 L772.4 525.9 L771.9 527.7M777.4 541.9 L778.0 542.8 L778.2 543.5 L778.4 544.6 L779.2 545.5 L778.9 546.8 L779.4 547.1 L779.2 548.9 L779.9 549.0 L780.2 549.0 L780.6 549.7 L781.8 551.4 L782.2 553.6 L783.9 554.3 L784.6 554.7 L785.3 555.9 L784.7 555.9 L784.4 557.9 L784.9 558.4 L785.6 559.5 L786.4 559.9 L786.3 560.8 L785.7 562.4 L786.6 563.5 L787.3 565.2 L788.2 566.4 L786.6 566.8 L786.7 567.3 L787.2 568.2 L788.4 569.7 L788.9 571.1 L789.3 572.1 L790.1 572.4 L790.6 572.5 L790.9 573.3M796.1 595.5 L797.1 596.9 L797.5 597.1 L797.1 598.6 L796.7 599.1 L796.9 601.5 L797.5 601.5 L797.9 603.2 L797.9 604.3 L797.8 605.7 L797.7 605.5 L797.7 606.2 L798.5 607.4 L798.9 608.8 L799.7 609.6 L799.6 610.1 L800.0 611.1 L800.7 612.9 L801.1 613.4 L801.3 615.0 L800.2 616.6 L800.6 618.3 L801.4 618.5 L802.6 618.5 L803.3 619.2 L803.6 621.3 L804.1 622.1 L803.8 622.8 L803.7 623.5 L804.6 625.2M808.2 632.2 L808.5 632.5 L808.9 634.1 L810.3 634.9 L810.3 636.6 L810.8 637.2 L811.3 638.5 L811.5 640.2 L812.1 641.9 L812.3 643.0 L813.8 643.6 L814.0 644.7 L814.6 645.8 L814.6 646.9 L815.0 646.3 L816.0 646.8 L816.6 646.9 L816.9 648.3 L817.2 649.8 L817.6 651.4M820.8 656.3 L821.2 657.8 L822.5 658.3 L823.0 658.7 L822.8 660.6 L822.1 661.5 L822.2 663.5 L823.4 664.3 L824.6 665.5 L825.0 666.2 L825.0 667.9 L824.4 667.8 L824.2 668.8 L824.9 668.8 L824.6 670.8 L825.3 671.6 L825.1 672.9 L825.8 673.5 L825.0 674.3 L824.5 674.8 L824.6 675.9 L824.4 676.4M823.6 690.5 L822.9 692.6 L822.3 692.7 L822.2 694.3 L822.2 694.5 L822.6 696.3 L822.8 696.9 L823.5 699.4 L823.8 700.3 L822.9 702.2 L821.9 703.6 L822.0 704.6 L822.3 705.3 L823.1 705.5 L822.4 706.6 L822.2 707.4 L821.6 707.8 L821.9 708.7 L822.2 708.7 L822.7 710.1 L822.7 710.5 L823.1 711.8 L823.0 711.7 L822.8 711.7 L822.6 710.4 L823.1 709.7 L823.1 708.5 L823.1 707.6 L823.4 707.0 L823.4 706.8 L823.6 706.3 L823.1 705.1 L824.0 703.7 L824.6 701.3 L824.8 699.8 L824.7 697.6 L824.4 697.2 L823.9 695.5 L824.5 694.4 L824.8 693.1 L826.0 692.4 L826.3 691.5 L826.6 690.2M834.6 638.9 L835.1 638.1 L835.4 637.4 L835.9 635.5 L835.8 634.3 L835.9 633.2 L836.2 633.7 L835.6 633.0 L835.2 631.2 L835.0 629.6 L836.0 627.6 L837.4 627.1 L837.9 626.5 L837.5 625.3 L836.9 624.1 L837.7 622.4 L838.3 621.4 L839.4 620.6M843.4 598.0 L843.7 597.3 L844.0 596.3 L844.0 595.9 L844.3 595.3 L844.4 594.8 L845.2 594.2 L846.0 592.8 L847.6 592.9 L848.2 592.4 L848.6 591.8 L848.4 590.0 L849.5 588.5M856.7 571.2 L856.8 570.4 L857.0 569.7 L857.5 568.1 L858.3 567.3 L859.1 565.5 L859.1 565.3 L858.1 562.9 L858.2 563.0 L859.1 562.1 L859.3 561.8 L859.4 560.3 L859.7 559.1 L860.6 558.5 L861.4 558.5 L861.2 557.6 L861.5 556.7 L861.6 555.3M869.3 530.3 L869.3 530.1 L870.2 529.3 L870.2 529.0 L870.4 527.9 L870.9 527.6 L872.0 526.0 L872.4 525.2 L872.1 523.4 L871.2 522.4 L871.3 521.6 L871.7 520.4 L872.3 519.4 L872.5 517.5 L873.0 517.3 L872.8 517.0M880.5 503.2 L880.6 502.9 L880.8 502.0 L880.9 501.7 L881.9 500.8 L882.2 500.3 L883.3 500.0 L884.1 498.6 L884.3 497.8 L885.3 495.9 L885.4 494.6 L886.5 492.4 L886.0 492.2 L886.0 491.7 L886.5 491.1 L887.7 490.1 L888.7 489.3 L889.1 488.6 L890.6 488.0 L890.8 487.3" fill="none" stroke="#008000" stroke-width="11.5" stroke-linecap="round" stroke-linejoin="round"/>
<polygon points="814.4,651.4 825.2,648.2 836,656 834.5,685.5 826.8,688.6 826.8,711.8 819,713.4 817.6,685.5 812.9,673.1" fill="#008000" stroke="#008000" stroke-width="2" stroke-linejoin="round"/>
<path d="M228.8 347.1 L230.6 345.9 L232.8 343.9 L233.5 342.8 L234.4 340.8 L235.6 339.0 L237.5 337.4 L240.3 336.3 L242.8 336.8 L245.3 337.9 L247.5 340.3 L249.2 343.4 L249.3 345.5 L249.6 347.2 L250.8 348.5 L252.4 349.4 L254.5 350.6 L256.9 351.4 L258.0 352.5 L259.3 353.3 L260.9 354.3 L262.3 355.9 L264.3 357.3 L265.9 359.3 L267.2 360.7 L268.3 362.2 L269.9 363.9 L271.7 365.1 L273.7 366.0 L275.7 367.2 L276.8 367.9 L278.2 369.3 L279.6 370.3 L280.4 371.8 L281.2 374.0 L282.7 375.6 L283.7 378.4 L285.8 380.3 L288.1 381.7 L290.0 382.4 L291.5 383.4 L293.3 384.2 L294.7 385.4 L295.6 387.4 L297.8 388.7 L299.1 390.6 L300.8 392.8 L302.3 394.3 L303.5 395.6 L305.5 396.9 L307.1 397.3 L309.4 398.0 L312.1 398.7 L313.2 399.4 L315.2 401.0 L316.7 402.8 L317.6 404.6 L318.4 406.2 L319.8 407.6 L320.8 409.0 L322.9 410.4 L325.2 411.9 L326.7 412.7 L328.9 413.7 L329.2 415.7 L330.8 417.0 L332.0 418.6 L333.5 420.5 L335.1 421.2 L335.8 423.7 L336.8 426.0 L337.7 428.1 L339.3 430.0 L340.6 430.8 L342.5 431.7 L344.2 433.0 L345.1 434.5 L347.3 436.4 L348.1 439.3 L348.5 440.5 L348.7 442.2 L348.5 444.2 L348.7 445.7 L349.6 448.2 L351.7 450.3 L353.2 451.6 L355.2 452.8 L357.4 454.7 L359.2 456.6 L360.4 459.0 L361.4 460.7 L360.9 462.9 L360.7 465.0 L361.0 466.6 L362.4 469.0 L364.0 470.1 L365.6 471.1 L366.3 471.8 L366.7 473.4 L368.2 474.9 L368.4 477.3 L369.7 479.9 L370.3 481.6 L371.0 483.2 L371.6 484.9 L372.3 486.9 L373.1 489.2 L373.6 492.0 L374.3 494.3 L375.4 496.3 L377.1 498.4 L378.7 499.6 L379.4 501.4 L379.4 503.1 L379.6 505.0 L378.8 507.8 L379.5 509.6 L380.3 511.7 L380.1 513.4 L381.2 515.2 L382.5 516.7 L384.0 518.6 L385.6 520.6 L386.7 522.4 L387.2 524.7 L387.6 526.0 L387.6 527.4 L387.7 529.7 L388.0 532.1 L388.4 534.0 L389.2 536.9 L391.0 538.6 L391.9 540.7 L392.5 543.5 L393.8 545.0 L393.6 546.9 L394.8 548.2 L395.1 550.3 L395.3 552.4 L395.7 554.8 L395.9 556.5 L397.2 558.4 L398.3 559.6 L399.5 561.2 L401.0 563.2 L402.0 565.0 L403.3 568.4 L404.2 570.4 L404.2 572.2 L404.3 574.2 L404.1 576.1 L404.4 578.0 L404.9 580.3 L405.9 582.4 L406.8 584.2 L408.3 586.2 L409.7 587.7 L410.3 589.6 L410.6 591.6 L410.1 594.4 L410.2 597.0 L410.4 598.2 L411.3 600.5 L412.4 601.4 L412.9 603.3 L413.0 605.5 L413.7 607.2 L414.8 609.9 L415.9 612.0 L417.1 613.9 L417.6 615.6 L418.2 617.6 L418.7 619.8 L419.4 622.4 L419.6 624.8 L420.3 627.3 L421.3 629.0 L422.5 630.3 L424.2 629.3 L425.4 626.2 L426.0 624.8 L426.9 623.6 L428.8 622.2 L430.1 619.5 L431.8 617.9 L433.5 614.9 L433.9 612.2 L434.4 610.4 L434.8 607.7 L434.3 605.7 L435.2 604.7 L435.8 602.4 L436.5 600.8 L437.8 599.6 L438.1 597.0 L439.2 594.8 L439.8 592.0 L440.4 589.6 L440.2 587.3 L440.5 585.3 L440.5 583.7 L440.2 581.7 L440.8 579.6 L440.5 577.6 L441.4 575.4 L442.2 573.0 L444.0 571.2 L445.1 569.1 L445.5 567.4 L445.1 565.8 L444.3 563.6 L444.9 561.8 L445.0 559.3 L446.8 557.5 L448.1 555.5 L449.2 553.5 L450.6 551.4 L451.6 549.3 L452.8 547.3 L453.8 545.0 L454.9 543.3 L454.9 540.6 L454.7 538.3 L454.9 536.0 L454.7 533.8 L456.2 532.6 L457.0 530.8 L457.8 528.9 L459.1 526.8 L458.8 524.1 L459.2 522.3 L458.7 520.5 L458.3 518.2 L458.1 517.4 L458.6 515.6 L459.5 513.4 L460.4 511.8 L461.8 508.9 L463.1 505.8 L464.2 504.2 L465.6 502.2 L467.2 499.9 L468.0 499.1 L468.8 496.7 L468.9 494.5 L469.1 492.2 L469.1 490.3 L470.3 488.8 L472.2 487.7 L474.4 486.4 L476.6 484.7 L478.7 483.9 L480.3 481.5 L480.1 480.3 L480.4 478.3 L480.3 475.6 L480.3 473.0 L481.2 470.2 L482.6 467.4 L483.3 465.1 L484.4 463.7 L486.0 461.8 L486.6 460.7 L488.2 459.1 L489.8 456.7 L490.4 455.0 L491.3 452.9 L491.5 451.1 L492.1 449.3 L493.2 447.4 L495.0 445.6 L496.8 444.0 L499.4 443.2 L500.8 441.9 L502.1 440.1 L503.5 438.2 L504.0 436.5 L505.7 434.6 L506.5 433.3 L507.6 432.0 L508.3 429.7 L509.7 428.1 L511.3 426.8 L513.1 425.2 L515.3 424.3 L516.4 422.7 L517.5 421.1 L519.0 419.5 L519.6 417.5 L520.2 415.8 L522.2 414.5 L523.3 412.8 L524.6 410.9 L526.5 409.2 L527.9 407.4 L529.4 406.2 L532.3 405.1 L534.4 404.1 L535.7 402.2 L537.1 400.4 L537.6 399.0 L538.3 396.7 L539.5 395.0 L540.4 393.7 L541.3 391.9 L542.7 390.5 L545.1 389.6 L547.5 388.6 L550.2 388.7 L552.1 388.7 L553.5 387.5 L555.1 386.0 L556.1 383.6 L558.1 380.8 L559.5 379.9 L561.0 378.6 L562.6 378.4 L564.1 377.8 L566.2 376.7 L567.7 376.3 L570.1 375.2 L571.7 373.7 L573.6 372.2 L575.8 370.8 L577.0 368.6 L578.4 367.1 L579.6 365.6 L581.3 363.5 L582.8 362.7 L584.9 362.0 L586.8 361.7 L589.2 361.2 L591.8 359.8 L593.7 358.0 L595.8 356.3 L596.8 355.3 L598.1 354.1 L599.4 353.3 L600.9 352.1 L603.3 351.2 L605.3 350.9 L607.2 350.5 L608.9 350.0 L610.7 349.2 L612.7 348.2 L614.9 346.9 L617.6 346.1 L618.8 344.7 L620.7 343.4 L622.7 342.3 L623.9 341.4 L626.4 341.0 L627.7 340.7 L629.7 340.7 L632.3 340.1 L634.6 339.8 L637.0 339.5 L638.8 338.5 L640.5 337.3 L642.2 336.2 L643.6 335.4 L645.4 334.8 L647.6 335.0 L650.1 334.8 L653.2 334.8 L655.6 335.2 L657.3 334.6 L658.8 334.5 L660.3 333.7 L662.7 332.4 L664.5 332.0 L666.6 330.5 L668.3 329.5 L669.6 329.7 L672.1 329.4 L673.9 329.4 L676.0 330.1 L678.0 329.6 L680.4 329.4 L682.1 329.2 L683.4 328.4 L684.9 327.2 L686.9 326.6 L688.9 325.0 L691.6 324.3 L694.3 324.3 L696.4 323.4 L698.2 324.6 L699.5 324.8 L701.9 325.0 L704.4 325.4 L707.4 324.8 L710.2 324.1 L712.0 322.6 L713.3 320.9 L714.9 320.6 L717.0 319.9 L718.9 319.8 L720.9 320.4 L723.0 320.3 L724.8 320.2 L727.4 321.1 L729.5 321.2 L731.6 321.2 L733.9 320.8 L735.2 319.2 L737.6 318.9 L740.2 318.2 L742.1 318.4 L744.5 319.4 L746.2 319.1 L748.2 319.0 L750.2 319.5 L752.4 319.6 L754.9 319.8 L756.4 319.9 L758.0 319.5 L760.3 319.1 L762.3 319.2 L764.4 319.4 L767.0 319.5 L768.9 319.6 L770.8 320.0 L772.7 320.3 L774.7 321.1 L776.0 321.9 L777.6 321.7 L780.3 321.6 L782.3 321.0 L784.8 320.7 L786.5 320.9 L788.4 321.4 L790.2 321.8 L791.7 322.2 L793.5 322.5 L794.7 322.6 L796.6 323.8 L798.8 324.2 L800.7 324.7 L804.2 325.4 L806.6 324.5 L808.9 324.3 L811.4 324.9 L812.9 324.2 L815.1 324.8 L817.7 326.2 L819.8 326.2 L822.0 327.9 L823.9 328.6 L825.8 328.5 L827.8 328.8 L829.7 328.0 L831.7 328.0 L832.7 327.9 L836.2 328.4 L836.8 328.8 L839.5 330.6 L841.0 331.3 L842.3 331.5 L843.8 332.6 L846.2 333.4 L848.5 334.0 L850.6 333.8 L852.6 333.3 L854.3 333.0 L855.9 333.0 L858.8 334.8 L861.6 336.7 L863.9 337.5 L866.8 338.1 L868.9 338.3 L870.1 339.0 L872.1 340.3 L873.5 340.6 L875.3 340.7 L877.5 340.3 L880.0 340.1 L881.9 340.8 L883.6 342.1 L885.9 343.2 L887.4 344.8 L889.4 346.4 L890.6 347.7 L892.6 348.1 L895.0 348.6 L897.6 348.8 L900.7 348.3 L902.7 349.1 L904.5 349.1 L906.6 350.1 L907.6 351.5 L909.4 353.0 L911.2 354.6 L912.2 356.1 L914.6 356.9 L915.9 357.5 L917.6 357.8 L920.0 357.8 L922.0 358.2 L924.2 359.0 L926.3 360.5 L927.7 361.9 L929.2 364.2 L930.7 365.4 L932.2 366.6 L934.4 367.9 L936.2 368.3 L938.5 369.9 L940.3 370.2 L942.2 370.6 L944.2 371.2 L946.3 371.4 L948.0 372.9 L949.3 373.8 L950.9 375.3 L952.1 377.1 L953.7 378.4 L955.2 380.5 L956.9 382.1 L959.0 382.8 L961.5 384.3 L964.1 384.9 L965.6 385.4 L966.8 386.9 L967.8 387.4 L969.0 388.5 L970.0 390.0 L972.2 391.3 L974.1 392.6 L975.7 394.5 L978.7 395.3 L980.4 396.2 L982.3 397.4 L984.4 398.0 L985.4 399.9 L987.4 401.6 L988.6 403.3 L990.2 404.7 L990.8 406.0 L991.6 407.8 L992.9 409.4 L993.8 411.0 L995.4 412.2 L997.6 413.2 L999.8 413.7 L1001.4 414.4 L1003.5 415.2 L1004.9 416.2 L1006.3 417.9 L1007.6 419.7 L1008.3 422.0 L1009.4 423.5 L1010.3 425.0 L1011.4 426.7 L1013.4 427.6 L1015.3 429.4 L1016.6 430.9 L1018.3 432.0 L1019.8 434.2 L1020.4 435.6 L1021.9 437.4 L1022.6 439.8 L1023.3 442.2 L1024.7 444.0 L1025.8 446.1 L1027.8 447.9 L1029.5 448.6 L1031.3 450.2 L1032.2 451.2 L1033.6 452.3 L1035.5 454.7 L1036.2 456.3 L1037.2 458.6 L1037.7 460.7 L1037.9 462.6 L1039.3 464.2 L1040.4 465.4 L1041.2 467.4 L1042.7 468.5 L1044.0 470.7 L1046.0 472.9 L1048.0 474.3 L1049.4 477.3 L1050.0 479.3 L1050.4 481.6 L1050.4 483.6 L1051.1 484.5 L1051.2 486.4 L1052.1 487.9 L1054.4 491.4 L1054.9 493.4 L1056.2 495.7 L1056.2 496.6 L1055.3 497.6 L1055.4 500.0 L1055.5 501.4 L1055.9 504.2 L1056.9 506.3 L1057.5 508.4 L1058.6 510.5 L1059.6 512.1 L1060.5 513.9 L1061.7 515.3 L1062.7 516.9 L1063.3 519.0 L1063.8 521.2 L1064.0 522.2 L1064.1 524.5 L1064.6 526.2 L1065.5 528.9 L1065.9 531.6 L1067.0 533.1 L1068.5 534.8 L1070.1 537.2 L1071.8 538.9 L1072.9 541.4 L1073.3 544.1 L1074.1 545.5 L1074.4 547.9 L1074.7 549.8 L1075.1 551.9 L1075.3 554.4 L1076.7 556.5 L1078.6 558.2 L1080.4 559.6 L1082.1 560.8 L1083.2 562.4 L1083.5 564.2 L1083.4 566.3 L1083.3 568.9 L1083.5 571.4 L1083.8 574.1 L1085.3 576.3 L1086.0 578.2 L1087.7 579.8 L1089.0 581.1 L1089.6 582.7 L1090.6 584.7 L1091.0 586.8 L1091.4 589.5 L1091.6 592.0 L1092.1 593.8 L1092.2 596.9 L1092.5 598.8 L1092.8 600.6 L1093.6 602.6 L1094.3 603.1 L1095.5 604.7 L1096.8 606.6 L1097.5 608.3 L1097.3 611.2 L1097.0 613.8 L1097.0 616.0 L1096.7 618.5 L1097.3 620.4 L1098.4 622.2 L1098.7 624.1 L1100.4 625.6 L1102.1 627.0 L1102.7 628.4 L1103.7 631.2 L1104.1 633.6 L1103.7 636.6 L1103.8 639.1 L1104.4 640.4 L1104.4 642.7 L1105.3 644.9 L1106.3 646.8 L1107.0 648.9 L1108.0 650.5 L1108.6 651.3 L1109.4 653.6 L1109.7 655.2 L1110.3 657.7 L1110.8 660.2 L1110.3 663.1 L1110.7 666.4 L1112.3 669.1 L1114.6 669.2 L1115.5 668.1 L1115.0 666.3 L1114.1 664.3 L1113.5 661.8 L1113.5 659.0 L1114.3 656.8 L1115.3 653.5 L1116.7 652.0 L1117.8 649.8 L1118.7 647.9 L1119.0 646.1 L1118.6 643.9 L1118.6 642.2 L1118.2 640.2 L1118.0 638.1 L1118.9 636.2 L1118.6 633.9 L1118.9 631.6 L1120.0 629.3 L1120.7 627.3 L1122.4 625.2 L1123.0 623.2 L1124.1 621.1 L1124.5 619.4 L1124.9 616.9 L1125.6 615.0 L1126.2 613.5 L1126.6 611.1 L1127.5 608.4 L1128.1 606.9 L1128.6 605.1 L1129.2 604.0 L1129.9 602.4 L1130.4 599.8 L1130.5 597.9 L1131.3 594.7 L1131.1 592.5 L1130.9 590.1 L1131.2 588.0 L1130.9 586.2 L1131.7 584.2 L1132.8 582.8 L1133.9 581.2 L1135.0 580.2 L1136.0 578.4 L1136.7 576.7 L1136.9 573.7 L1136.8 571.3 L1136.4 569.0 L1135.9 566.5 L1136.7 565.2 L1137.4 562.8 L1138.2 561.1 L1139.8 559.7 L1140.9 557.7 L1141.9 555.7 L1143.2 553.6 L1144.2 551.1 L1144.3 548.7 L1144.5 547.1 L1144.9 544.7 L1144.7 543.2 L1145.2 541.4 L1146.2 540.0 L1147.9 538.5 L1150.2 536.4 L1151.5 534.8 L1153.3 531.8 L1153.8 529.9 L1154.0 527.8 L1154.7 524.9 L1154.6 523.5 L1154.9 521.3 L1155.0 519.0 L1155.3 517.7 L1156.8 515.7 L1158.2 514.3 L1160.3 512.9 L1161.7 511.1 L1162.4 509.7 L1163.2 507.6 L1163.7 505.4 L1164.9 503.5 L1166.1 501.7 L1166.7 499.7 L1167.9 498.0 L1169.2 497.4 L1170.5 496.0 L1172.6 494.9 L1174.7 493.6 L1176.2 491.6 L1177.3 490.1 L1178.1 488.1 L1178.0 485.6 L1178.0 483.7 L1179.0 481.0 L1179.8 479.6 L1181.3 478.7 L1182.4 476.9 L1183.5 475.8 L1184.7 474.0 L1186.3 471.6 L1188.0 469.6 L1189.3 467.0 L1190.6 465.4 L1190.8 464.1 L1190.9 462.0 L1192.0 460.8 L1193.1 458.9 L1194.5 457.3 L1196.8 456.4 L1197.7 455.5 L1198.6 453.5 L1200.2 452.5 L1202.0 451.5 L1203.7 449.1 L1205.5 447.3 L1206.6 445.2 L1207.6 442.1 L1208.8 440.1 L1210.4 438.8 L1212.4 437.9 L1213.9 437.7 L1216.2 437.8 L1217.6 436.4 L1218.8 434.1 L1220.8 432.0 L1222.1 429.8 L1224.0 427.9 L1225.7 426.8 L1226.7 425.2 L1227.8 424.2 L1229.6 423.4 L1231.0 422.5 L1233.2 422.0 L1236.5 420.5 L1238.2 420.0 L1239.7 418.9 L1240.1 417.9 L1240.9 417.1 L1241.5 415.9 L1242.9 414.3 L1245.3 412.8 L1247.9 411.5 L1250.0 410.9 L1251.3 410.2 L1253.2 409.7 L1255.2 408.6 L1256.7 407.8 L1258.4 407.1 L1259.7 406.1 L1261.1 405.0 L1262.4 404.2 L1264.5 403.2 L1266.0 401.7 L1267.2 399.8 L1269.4 398.1 L1271.3 396.7 L1273.6 395.4 L1276.0 395.4 L1277.9 394.4 L1279.1 393.5 L1280.5 392.1 L1282.2 390.1 L1284.1 389.4 L1286.4 388.9 L1288.0 387.6 L1289.8 386.6 L1291.5 385.8 L1293.6 385.2 L1296.1 385.8 L1298.4 386.5 L1300.6 385.9 L1302.4 385.0 L1304.6 384.2 L1306.4 383.0 L1307.5 381.8 L1308.8 381.1 L1310.1 380.8 L1311.9 380.7 L1314.4 380.7 L1316.7 380.4 L1319.0 380.0 L1321.7 379.9 L1323.7 380.3 L1326.1 380.9 L1328.2 380.5 L1329.7 380.2 L1331.9 378.4 L1333.8 376.7 L1335.7 376.4 L1337.8 375.8 L1340.3 376.0 L1342.6 376.7 L1345.1 376.8 L1347.6 376.7 L1349.4 376.3 L1351.5 374.9 L1353.4 374.1 L1355.0 372.7 L1356.9 372.2 L1359.1 372.1 L1360.8 371.1 L1362.5 371.7 L1364.2 371.9 L1366.1 372.0 L1367.9 372.2 L1370.3 371.5 L1372.3 370.8 L1373.5 370.3 L1375.1 370.4 L1376.3 369.0 L1379.0 367.1 L1382.0 366.1 L1384.3 364.6 L1386.4 365.2 L1388.7 366.1 L1390.2 366.3 L1392.3 367.4 L1394.2 367.9 L1395.5 367.6 L1397.7 366.9 L1398.8 365.3 L1400.7 363.5 L1402.8 362.9 L1404.4 363.0 L1407.2 363.0 L1409.5 364.0 L1411.8 364.6 L1413.9 365.2 L1415.3 366.7 L1417.2 367.0 L1419.5 367.1 L1421.6 366.5 L1424.5 365.9 L1427.0 364.6 L1429.3 363.9 L1431.5 363.7 L1433.0 363.8 L1435.2 364.8 L1437.2 365.5 L1438.6 366.5 L1441.4 367.4 L1442.5 368.1 L1443.5 368.3" fill="none" stroke="#ff0000" stroke-width="11.5" stroke-linecap="round" stroke-linejoin="round"/>
<polygon points="227,348 232,340 238,335.5 247,339 252,348 259,353 265,350.5 270,357 275,366 273,372 262,368 250,365 240,364 228,362" fill="#ff0000" stroke="#ff0000" stroke-width="2" stroke-linejoin="round"/>
<path d="M228.1 394.9 L229.3 394.9 L230.8 394.2 L232.6 393.1 L235.8 392.3 L238.4 391.6 L241.2 391.1 L242.6 391.8 L243.0 392.6 L245.2 392.8 L247.1 394.2 L249.4 395.3 L252.3 395.9 L254.2 396.2 L256.8 396.4 L258.6 396.4 L260.3 397.3 L262.0 398.0 L263.8 399.1 L266.1 400.5 L268.5 400.9 L270.3 401.6 L272.5 402.7 L274.7 403.9 L276.6 405.4 L278.2 406.5 L279.6 406.9 L281.3 406.8 L283.1 407.7 L284.3 408.2 L286.2 409.5 L287.3 411.8 L288.7 413.5 L290.2 416.0 L291.7 417.7 L293.6 419.2 L295.5 420.8 L298.3 421.6 L299.8 422.3 L301.8 423.6 L303.6 424.0 L304.6 425.2 L305.2 426.8 L306.4 428.2 L307.6 430.1 L308.8 431.8 L310.8 433.3 L312.1 434.6 L314.0 436.5 L316.3 437.7 L318.2 439.0 L320.5 440.2 L322.6 441.1 L323.8 442.3 L325.1 443.7 L325.4 445.7 L325.8 447.4 L327.3 449.4 L328.8 451.3 L331.1 452.7 L333.2 454.7 L334.8 455.9 L336.5 457.6 L337.8 458.7 L339.1 460.3 L340.1 461.9 L340.9 463.9 L341.7 466.0 L342.1 467.5 L343.5 469.8 L345.1 471.2 L346.5 472.7 L348.2 473.7 L350.1 475.0 L350.9 476.2 L352.5 477.7 L354.1 479.9 L354.9 481.3 L355.9 483.2 L356.1 485.7 L357.4 487.3 L358.1 489.3 L359.5 490.7 L361.7 491.5 L363.1 493.3 L365.1 494.6 L366.1 496.3 L366.7 498.9 L366.3 500.2 L365.2 502.7 L365.7 505.5 L365.8 507.0 L366.2 508.9 L366.8 511.1 L367.2 512.7 L368.1 515.2 L369.8 517.3 L371.2 518.6 L372.5 520.8 L372.9 523.1 L372.7 525.1 L372.2 527.4 L371.9 529.1 L372.3 530.9 L372.9 533.5 L374.8 535.5 L375.7 537.5 L377.1 539.4 L378.4 540.2 L379.2 541.8 L380.3 543.5 L381.0 545.1 L381.4 547.4 L381.7 549.3 L382.6 551.4 L383.0 553.5 L384.2 555.9 L385.5 557.7 L386.3 559.2 L387.4 560.2 L388.9 561.6 L389.5 564.0 L390.1 565.9 L391.3 568.5 L391.1 570.5 L391.4 572.4 L392.0 574.6 L392.3 577.0 L393.5 579.3 L394.3 581.1 L395.1 583.1 L396.2 584.1 L396.8 585.6 L398.0 587.1 L398.8 588.7 L398.8 590.9 L399.3 593.3 L399.4 595.2 L400.0 597.4 L400.3 599.5 L400.7 601.4 L401.2 604.3 L401.8 606.1 L402.8 607.7 L403.8 610.0 L405.1 611.1 L405.6 613.0 L405.1 615.1 L405.4 616.9 L404.9 619.0 L404.1 621.4 L405.4 623.0 L406.2 624.4 L408.3 625.5 L410.3 626.0 L411.7 627.4 L413.1 628.4 L414.8 630.8 L417.1 633.6 L418.2 635.3 L419.5 636.6 L421.1 635.8 L422.5 633.3 L424.1 631.0 L424.9 627.9 L425.6 625.7 L426.1 624.4 L426.8 622.1 L428.1 619.7 L429.6 618.1 L431.3 616.7 L433.1 615.7 L434.7 614.4 L435.8 611.7 L436.2 610.2 L437.0 607.6 L437.0 605.6 L438.3 603.3 L439.1 600.4 L439.5 598.0 L440.3 596.1 L440.2 594.7 L441.2 593.1 L442.4 591.5 L443.1 590.1 L443.7 588.0 L443.7 585.7 L442.7 583.2 L442.2 580.3 L442.0 578.3 L442.1 576.2 L443.0 574.6 L444.4 573.2 L445.5 570.9 L446.7 568.4 L447.7 566.2 L447.9 563.4 L448.3 560.9 L448.4 559.0 L448.4 556.8 L448.7 555.0 L449.4 553.3 L449.9 551.2 L450.7 549.2 L451.7 547.1 L452.8 545.7 L454.1 544.1 L455.4 542.6 L457.1 540.5 L457.7 537.8 L458.2 535.7 L458.4 533.5 L458.2 531.1 L458.4 529.5 L458.6 527.9 L460.0 525.6 L461.0 524.9 L463.1 523.3 L464.6 521.0 L464.9 519.3 L465.1 517.1 L464.6 514.5 L465.1 512.5 L465.8 510.3 L466.5 507.8 L467.3 506.5 L467.8 504.3 L468.9 502.6 L470.2 501.5 L471.0 500.1 L472.7 498.7 L473.5 496.9 L474.3 494.7 L475.2 492.0 L475.6 490.6 L476.2 489.2 L478.0 487.7 L479.9 487.1 L482.3 485.3 L484.5 483.9 L486.6 482.3 L488.2 480.7 L488.5 478.9 L489.8 476.7 L489.7 474.4 L490.2 471.6 L491.0 469.7 L491.1 468.2 L492.3 467.0 L493.7 465.6 L494.5 464.2 L496.4 462.3 L497.3 460.9 L498.1 459.2 L499.6 457.8 L499.9 455.2 L500.8 452.5 L501.1 450.6 L501.9 448.2 L503.2 447.5 L505.0 446.2 L507.5 445.3 L509.7 443.4 L511.7 441.8 L513.4 440.3 L514.9 438.0 L515.8 436.5 L516.7 434.4 L517.2 432.3 L517.5 430.4 L518.6 428.7 L520.0 427.4 L522.0 425.8 L524.6 424.0 L525.8 423.1 L527.1 421.7 L527.9 420.5 L528.2 419.5 L530.0 418.0 L531.4 416.1 L533.0 414.0 L534.6 412.8 L536.4 411.6 L538.4 410.9 L539.9 410.0 L541.7 408.9 L543.7 407.9 L545.1 407.2 L546.6 407.1 L548.6 406.0 L549.7 404.3 L551.0 402.5 L553.1 400.7 L554.3 399.1 L556.3 398.0 L558.7 397.0 L560.5 396.3 L562.7 396.5 L564.4 396.4 L565.5 396.1 L567.1 395.6 L568.8 393.9 L570.2 392.4 L573.1 391.0 L575.1 389.8 L577.1 388.9 L579.3 389.0 L580.2 388.0 L581.8 387.1 L582.8 386.2 L584.8 384.6 L587.5 383.8 L589.5 382.4 L591.7 381.2 L593.2 379.6 L594.7 378.2 L596.2 377.5 L598.0 376.4 L599.7 376.1 L601.4 376.0 L603.6 374.9 L605.7 374.5 L607.9 374.1 L610.1 372.6 L611.8 371.0 L614.0 369.9 L615.3 368.3 L616.5 367.5 L618.1 366.7 L620.1 365.1 L622.3 363.9 L624.5 362.9 L626.6 363.2 L628.5 363.1 L631.2 363.0 L633.3 362.6 L635.0 361.6 L636.2 360.3 L637.5 358.7 L639.2 357.0 L641.2 355.5 L642.6 355.1 L644.0 355.4 L646.8 355.8 L649.2 356.0 L652.3 355.6 L654.2 354.7 L655.2 353.9 L656.9 352.5 L658.5 352.2 L660.7 351.3 L663.0 350.3 L664.7 349.3 L666.8 348.7 L668.8 348.4 L670.6 348.4 L673.0 348.8 L675.0 348.2 L676.7 347.9 L679.5 347.3 L680.8 346.3 L682.6 345.9 L685.2 344.7 L686.3 343.9 L688.8 343.1 L691.3 342.4 L693.2 342.6 L695.8 342.9 L698.1 343.8 L700.0 344.4 L701.6 344.2 L703.2 343.2 L705.0 342.6 L707.0 341.5 L708.8 340.8 L710.8 340.6 L713.1 339.6 L715.5 339.1 L718.2 339.1 L720.7 339.4 L721.9 339.7 L723.5 340.4 L724.7 340.3 L726.9 340.3 L730.0 339.6 L732.5 338.2 L735.2 337.4 L736.9 336.9 L738.1 336.4 L740.1 336.8 L742.5 337.3 L744.9 337.3 L747.4 337.9 L749.2 337.7 L750.8 338.0 L752.7 337.3 L754.4 336.7 L755.8 335.8 L757.6 334.5 L759.5 333.4 L762.4 333.7 L764.7 334.2 L767.3 334.9 L769.8 336.4 L771.1 336.2 L773.2 336.7 L774.6 336.9 L776.3 336.4 L778.9 335.6 L780.3 334.8 L782.9 334.2 L784.8 333.7 L786.8 334.5 L789.9 335.1 L791.6 335.9 L794.1 337.1 L795.9 337.3 L798.0 337.1 L800.5 336.9 L802.7 336.3 L804.9 336.5 L806.3 336.2 L808.3 335.4 L809.6 335.8 L811.3 335.5 L814.5 336.4 L816.4 338.2 L817.7 338.3 L818.9 339.4 L819.6 340.4 L821.4 340.1 L824.1 340.2 L826.7 339.4 L830.1 338.3 L831.6 338.2 L832.8 338.6 L835.2 340.1 L837.5 341.3 L839.1 342.9 L841.4 344.4 L842.8 344.7 L844.3 345.7 L847.1 345.7 L848.9 345.9 L851.5 346.0 L854.2 346.0 L856.5 346.2 L858.7 346.7 L859.7 347.6 L861.3 348.8 L863.0 350.0 L864.8 350.6 L867.6 351.2 L869.8 351.0 L871.7 350.9 L874.7 351.1 L877.4 351.2 L880.0 351.7 L881.5 352.8 L882.8 353.9 L884.3 355.2 L885.6 356.5 L887.9 357.4 L889.4 358.0 L891.4 358.8 L893.4 359.0 L894.8 359.7 L897.3 359.7 L898.4 360.2 L900.3 360.2 L902.8 360.9 L904.0 362.6 L906.3 363.5 L908.3 365.2 L910.3 366.2 L912.4 367.3 L914.1 367.7 L915.9 368.0 L917.0 368.3 L919.3 368.1 L921.8 368.2 L923.7 368.9 L926.1 369.4 L927.9 370.9 L929.1 372.7 L930.4 374.7 L931.7 376.4 L933.2 377.3 L935.1 377.6 L937.2 377.9 L939.6 377.6 L941.6 378.7 L944.1 379.6 L945.9 380.5 L947.8 382.7 L949.6 383.8 L950.7 385.5 L952.8 386.7 L954.3 387.3 L955.7 387.7 L957.4 388.8 L959.4 389.8 L961.2 391.0 L963.2 391.6 L965.0 391.9 L965.6 392.4 L967.6 393.3 L969.1 394.9 L970.8 396.6 L972.9 398.6 L973.4 399.8 L975.2 401.0 L976.8 401.5 L979.4 402.6 L981.7 404.0 L983.9 405.0 L985.7 406.2 L987.3 407.1 L988.9 408.4 L989.5 410.2 L990.5 411.9 L991.3 414.3 L992.7 415.8 L995.1 417.7 L997.1 418.8 L999.1 419.4 L1000.9 420.3 L1002.3 420.7 L1003.9 421.8 L1004.8 423.3 L1005.9 425.4 L1006.7 428.1 L1007.5 430.2 L1008.5 432.1 L1010.1 433.7 L1012.0 434.4 L1014.4 435.8 L1016.3 436.9 L1018.0 438.1 L1019.6 439.4 L1020.4 441.1 L1022.2 443.1 L1022.8 444.9 L1023.6 446.7 L1024.3 448.7 L1025.1 450.7 L1026.7 452.3 L1028.6 454.0 L1031.0 454.8 L1032.5 455.9 L1034.4 457.6 L1035.2 459.0 L1035.9 460.8 L1036.4 462.7 L1036.3 464.7 L1037.3 467.1 L1037.3 469.9 L1038.6 471.5 L1039.6 472.8 L1041.1 474.3 L1043.0 475.7 L1044.5 477.6 L1045.6 480.0 L1046.4 481.9 L1046.8 483.4 L1047.1 485.3 L1047.7 487.6 L1048.0 490.2 L1048.3 492.6 L1048.5 494.6 L1049.2 496.8 L1050.4 498.5 L1051.8 500.6 L1053.2 502.4 L1054.4 503.1 L1054.4 504.9 L1054.7 506.4 L1055.5 508.5 L1056.3 511.1 L1056.9 513.3 L1058.1 515.5 L1058.1 517.0 L1058.8 519.1 L1060.8 520.4 L1061.8 522.1 L1063.4 524.5 L1064.1 526.0 L1063.3 527.8 L1063.6 529.4 L1063.8 531.2 L1063.9 533.5 L1065.2 535.6 L1065.5 538.4 L1065.7 540.6 L1065.8 542.2 L1066.7 544.1 L1067.4 545.0 L1068.6 546.4 L1069.9 548.5 L1070.9 550.4 L1072.3 552.3 L1072.8 555.0 L1073.7 556.7 L1074.1 558.7 L1074.3 560.7 L1075.3 561.9 L1076.4 563.3 L1077.7 565.3 L1078.9 567.7 L1079.7 569.4 L1080.0 571.2 L1079.8 572.6 L1079.9 574.1 L1080.4 576.4 L1080.4 578.7 L1081.1 581.1 L1081.8 583.6 L1082.7 585.4 L1084.1 587.4 L1085.2 589.0 L1086.4 590.7 L1087.0 592.6 L1087.6 594.2 L1087.3 596.7 L1087.2 598.1 L1086.9 600.5 L1087.0 602.9 L1087.6 604.4 L1087.9 606.9 L1088.8 609.1 L1089.4 611.2 L1090.6 613.3 L1091.9 615.2 L1093.2 616.9 L1093.6 618.7 L1093.8 620.6 L1094.0 622.6 L1093.2 625.1 L1093.5 627.0 L1093.9 629.8 L1094.1 632.2 L1095.3 634.6 L1096.1 636.6 L1097.0 638.7 L1097.7 640.7 L1097.6 642.5 L1097.3 644.7 L1097.1 647.0 L1096.4 648.8 L1096.5 651.0 L1096.5 652.1 L1097.4 654.2 L1098.5 657.3 L1099.8 659.0 L1100.9 662.0 L1101.4 664.1 L1102.2 665.7 L1101.6 666.0 L1102.1 665.8 L1104.1 663.4 L1106.9 660.1 L1108.3 658.7 L1108.8 657.0 L1109.2 655.0 L1109.2 652.5 L1109.0 649.9 L1110.1 647.4 L1110.2 645.2 L1111.7 643.0 L1112.5 641.5 L1114.1 640.0 L1116.1 637.9 L1116.9 635.7 L1118.5 633.7 L1118.9 630.9 L1119.2 629.2 L1120.1 627.5 L1120.1 626.2 L1120.7 624.7 L1121.8 622.5 L1122.5 620.3 L1123.9 617.8 L1125.0 616.4 L1125.9 614.7 L1126.9 612.9 L1127.6 610.7 L1127.8 608.0 L1127.8 606.2 L1127.8 604.2 L1127.7 602.7 L1128.8 601.1 L1130.2 599.1 L1131.8 597.0 L1133.9 594.4 L1134.1 592.5 L1134.7 591.0 L1134.7 589.0 L1134.6 587.7 L1135.5 585.3 L1135.8 583.1 L1136.1 580.9 L1136.4 579.6 L1137.6 577.9 L1138.8 576.1 L1139.8 574.5 L1141.5 571.9 L1141.7 569.8 L1142.3 568.1 L1143.3 566.1 L1143.7 563.8 L1144.5 561.8 L1144.7 559.1 L1145.1 557.5 L1144.9 555.8 L1145.9 553.6 L1147.0 552.4 L1148.1 550.0 L1149.8 548.3 L1150.6 546.7 L1151.7 544.4 L1152.4 542.2 L1152.6 539.8 L1153.2 537.6 L1153.8 535.3 L1154.2 533.8 L1155.4 531.8 L1156.4 529.8 L1158.0 528.3 L1159.8 526.7 L1161.3 525.6 L1162.4 524.3 L1162.2 522.7 L1162.4 519.6 L1162.9 516.7 L1163.7 515.0 L1165.2 513.6 L1166.6 512.4 L1167.6 511.1 L1169.5 509.5 L1171.3 507.4 L1172.6 505.7 L1174.7 504.6 L1175.4 502.4 L1175.6 500.7 L1176.3 499.0 L1176.4 496.1 L1177.0 493.1 L1177.8 491.1 L1179.2 489.5 L1180.1 488.9 L1181.6 488.4 L1183.1 487.1 L1183.9 485.0 L1185.9 482.9 L1186.6 480.9 L1187.2 479.1 L1187.8 477.3 L1188.0 475.1 L1189.6 473.4 L1191.2 471.6 L1193.9 470.1 L1195.3 469.3 L1196.9 467.3 L1198.8 466.1 L1199.2 464.5 L1201.0 462.9 L1201.7 461.8 L1202.2 459.8 L1203.5 458.0 L1204.7 455.9 L1205.3 453.9 L1206.7 452.3 L1208.3 451.0 L1210.1 449.9 L1213.0 448.3 L1214.5 446.9 L1216.1 445.4 L1217.5 443.5 L1218.0 441.9 L1219.3 440.5 L1220.5 438.7 L1221.4 437.0 L1223.2 436.4 L1225.1 435.2 L1227.4 434.5 L1229.6 433.8 L1231.8 431.9 L1233.4 430.2 L1234.5 428.2 L1236.1 426.6 L1237.6 425.1 L1239.2 423.7 L1240.4 422.6 L1242.3 421.2 L1243.6 420.5 L1245.5 419.6 L1248.0 419.5 L1249.7 419.3 L1250.9 419.1 L1253.0 418.7 L1254.0 417.2 L1255.3 415.4 L1257.4 413.7 L1258.8 411.3 L1260.3 410.6 L1261.3 409.5 L1262.4 408.4 L1264.5 407.9 L1266.2 406.6 L1268.8 406.8 L1270.9 405.9 L1272.5 404.8 L1274.8 404.5 L1275.7 403.3 L1277.7 401.9 L1279.3 400.2 L1280.5 399.3 L1282.5 397.4 L1284.9 396.9 L1287.3 397.7 L1289.8 396.7 L1291.9 397.0 L1293.7 397.0 L1295.8 395.4 L1298.1 394.6 L1299.7 393.4 L1301.5 391.6 L1303.1 390.4 L1304.4 389.4 L1306.9 389.0 L1308.0 389.6 L1310.8 389.7 L1313.8 389.8 L1316.3 389.7 L1319.3 389.1 L1321.1 388.2 L1323.1 387.6 L1324.6 386.7 L1326.3 385.8 L1328.5 385.8 L1329.8 385.1 L1331.4 384.8 L1333.4 384.3 L1335.4 384.1 L1338.2 384.1 L1340.5 384.0 L1342.0 383.3 L1343.5 381.6 L1345.0 380.2 L1347.1 378.3 L1349.9 376.7 L1352.0 375.8 L1354.3 375.7 L1355.6 376.2 L1357.2 377.1 L1359.1 378.4 L1360.7 379.0 L1363.1 378.6 L1365.3 378.4 L1367.1 377.0 L1369.1 375.5 L1370.8 375.0 L1372.4 372.9 L1374.2 372.2 L1376.1 371.6 L1378.5 371.2 L1380.7 372.1 L1383.1 372.9 L1385.0 374.4 L1387.5 374.7 L1390.1 373.8 L1392.7 371.9 L1394.7 369.6 L1396.2 367.8 L1398.2 367.1 L1400.2 366.8 L1402.9 367.4 L1406.0 368.4 L1407.4 369.6 L1409.0 370.9 L1411.0 371.3 L1412.2 370.8 L1414.8 370.0 L1416.8 368.3 L1418.4 366.9 L1420.0 365.7 L1421.0 364.8 L1423.9 364.5 L1426.8 365.2 L1429.3 366.5 L1431.7 367.3 L1434.2 368.0 L1436.2 367.2 L1438.4 366.2 L1440.4 365.5 L1441.9 365.2 L1442.7 365.0 L1443.9 364.8" fill="none" stroke="#008000" stroke-width="11.5" stroke-linecap="round" stroke-linejoin="round"/>
<polygon points="229,392 234,387.5 247,392.5 263,398 277,403 293,420 290,428 283,414 273,408 262,413 255,430 252,447 237,447 229,437" fill="#008000" stroke="#008000" stroke-width="2" stroke-linejoin="round"/>
<path d="M228.3 371.9 L228.8 370.6 L228.6 368.5 L229.4 366.8 L230.8 364.5 L232.6 362.7 L235.2 362.4 L236.8 363.2 L237.7 364.8 L238.1 366.1 L239.2 367.9 L241.2 368.9 L243.1 370.1 L245.6 370.8 L247.8 371.1 L249.3 372.3 L251.2 373.3 L253.4 375.8 L254.9 377.6 L256.0 378.7 L257.5 380.7 L258.7 382.1 L260.7 383.2 L263.6 383.6 L266.2 383.7 L268.3 383.5 L270.9 384.0 L273.2 385.1 L274.3 386.0 L276.0 387.2 L277.3 388.7 L278.1 391.0 L280.1 392.7 L281.4 393.6 L283.1 393.8 L285.7 393.8 L288.0 394.8 L291.0 395.9 L292.5 397.3 L293.5 399.4 L294.1 400.3 L295.4 403.1 L296.8 405.3 L298.9 406.6 L301.3 409.1 L302.7 409.9 L303.8 410.4 L305.4 411.0 L306.9 411.5 L308.9 413.0 L311.5 414.9 L312.9 417.6 L313.7 419.4 L314.0 421.3 L314.9 423.2 L316.6 424.8 L318.7 426.3 L321.0 427.2 L322.9 428.0 L324.2 428.4 L326.0 429.1 L327.7 430.6 L329.0 432.7 L330.0 434.6 L330.4 437.6 L331.7 439.6 L332.6 440.8 L334.6 442.4 L336.9 443.7 L338.1 444.5 L340.4 446.1 L341.4 447.3 L342.5 448.0 L344.2 450.2 L345.4 452.3 L346.8 454.3 L347.9 456.2 L348.1 457.6 L349.2 459.2 L349.7 461.4 L351.6 463.1 L353.8 464.9 L354.8 466.9 L356.5 468.0 L357.1 469.6 L357.6 471.6 L358.1 472.5 L358.4 474.9 L358.7 476.7 L360.0 478.3 L361.5 480.7 L363.3 482.0 L365.7 483.5 L367.1 484.6 L368.6 486.0 L369.5 488.1 L370.2 490.3 L370.6 492.9 L371.0 494.2 L371.4 495.8 L371.0 497.9 L372.7 500.2 L373.2 502.4 L374.7 503.7 L376.6 505.1 L377.4 507.0 L378.3 509.2 L378.9 511.3 L378.8 513.4 L378.8 514.1 L378.8 515.5 L378.4 517.6 L378.8 520.2 L379.8 523.1 L381.5 526.1 L383.3 527.7 L385.1 529.4 L385.8 531.1 L386.8 532.6 L387.7 535.0 L388.0 536.5 L388.8 538.9 L388.5 540.6 L388.9 543.0 L389.3 544.7 L390.0 546.6 L391.8 548.8 L392.5 550.1 L394.1 552.0 L396.3 553.5 L397.1 555.0 L398.4 557.4 L398.8 559.7 L397.9 561.6 L397.9 564.0 L398.0 565.7 L398.1 567.7 L399.3 570.4 L400.5 571.6 L401.3 573.3 L403.2 575.1 L403.7 576.4 L404.8 578.9 L405.5 581.2 L404.9 582.9 L405.2 585.7 L405.3 587.7 L405.9 589.9 L407.5 591.9 L408.6 593.5 L409.0 595.1 L409.9 596.7 L410.6 598.5 L411.9 601.1 L412.8 604.1 L412.4 606.1 L412.0 607.7 L410.8 608.8 L410.7 609.7 L410.4 612.2 L410.6 614.3 L411.4 616.7 L411.9 618.9 L413.3 620.0 L414.3 621.4 L415.3 622.9 L416.0 625.0 L416.4 626.5 L416.7 628.9 L416.5 631.3 L416.2 633.6 L416.2 636.5 L416.5 639.0 L417.1 640.7 L417.7 641.6 L419.0 643.4 L419.8 645.1 L420.9 648.1 L422.3 650.7 L422.5 653.4 L422.0 655.7 L421.7 657.2 L421.3 659.1 L421.5 660.4 L422.5 662.4 L423.7 664.3 L425.5 667.6 L427.0 670.3 L428.0 672.7 L427.8 675.8 L427.8 678.0 L427.7 679.5 L428.4 681.1 L430.8 681.1 L432.2 679.3 L433.2 676.5 L432.9 672.7 L433.0 670.6 L433.0 667.8 L433.8 666.1 L435.0 664.7 L436.3 661.8 L438.1 659.8 L439.1 657.0 L440.0 654.2 L440.6 653.3 L440.6 651.6 L440.0 649.8 L440.0 647.9 L439.6 645.3 L439.1 643.0 L440.2 641.3 L440.6 638.6 L441.9 636.6 L443.4 634.5 L443.5 632.8 L443.9 630.7 L444.0 629.0 L443.8 627.1 L443.9 624.4 L443.9 622.1 L443.9 620.7 L444.5 619.0 L445.4 616.9 L446.4 615.2 L447.2 613.0 L448.3 611.3 L448.8 610.0 L449.8 608.0 L450.0 605.8 L449.9 603.0 L450.2 600.4 L449.9 598.4 L450.3 596.2 L450.9 594.1 L450.9 592.1 L451.7 589.5 L452.1 587.7 L452.4 586.1 L453.5 584.7 L453.6 583.2 L454.2 580.8 L454.2 578.9 L453.2 575.9 L453.0 574.1 L452.9 571.7 L452.9 569.4 L454.7 567.6 L455.9 565.1 L457.4 563.3 L458.6 561.7 L458.7 559.7 L458.7 558.3 L458.5 557.0 L458.3 554.4 L458.9 552.7 L459.4 549.4 L460.4 547.3 L462.1 545.1 L462.9 543.2 L464.2 542.5 L464.9 540.4 L465.3 538.5 L466.5 536.7 L466.8 534.2 L466.6 532.6 L466.7 530.4 L466.4 528.3 L467.4 526.5 L469.4 524.1 L471.5 522.4 L473.5 520.7 L475.0 518.6 L475.6 516.5 L475.4 514.9 L475.9 513.0 L475.7 510.6 L475.9 508.6 L476.8 506.8 L477.7 503.8 L478.5 502.2 L480.0 500.8 L481.9 499.1 L483.5 498.0 L485.4 496.6 L486.9 494.8 L486.9 493.3 L487.6 490.8 L488.4 488.7 L488.8 486.7 L490.6 484.3 L491.6 482.7 L492.9 481.6 L493.9 480.7 L495.1 480.0 L496.5 479.2 L498.0 477.1 L499.8 475.0 L499.7 473.2 L500.4 471.5 L500.4 468.8 L500.0 466.4 L500.6 463.5 L501.0 461.3 L501.8 459.7 L503.3 458.1 L505.6 456.3 L507.3 455.1 L508.5 454.4 L510.3 453.0 L510.9 451.5 L511.3 448.9 L512.5 446.7 L513.1 444.4 L514.4 443.3 L516.2 442.0 L518.5 441.1 L520.5 440.4 L521.7 439.0 L522.8 437.9 L523.5 435.1 L525.0 432.8 L526.8 431.2 L528.2 428.9 L529.4 427.1 L530.5 425.9 L531.9 423.6 L534.0 422.5 L535.6 422.0 L537.3 420.5 L538.9 420.2 L540.6 418.1 L542.1 416.3 L543.5 414.7 L544.2 412.0 L544.2 410.1 L545.4 408.4 L546.3 406.9 L548.0 405.3 L550.0 404.7 L551.5 404.1 L553.5 403.0 L555.7 402.1 L557.1 400.3 L559.0 398.4 L560.3 396.6 L560.9 394.7 L562.2 393.3 L563.3 391.2 L565.1 390.1 L567.4 389.2 L570.0 388.7 L572.2 388.8 L574.4 388.0 L576.3 387.0 L577.5 385.6 L578.5 383.3 L579.7 382.1 L581.2 380.7 L582.7 379.3 L584.8 378.2 L586.7 377.1 L588.3 376.2 L590.6 375.8 L592.7 375.7 L594.4 375.6 L596.6 375.3 L597.7 374.7 L599.5 373.5 L601.8 371.6 L603.9 370.1 L606.3 368.8 L607.6 367.7 L608.9 367.5 L609.9 367.7 L612.0 366.9 L614.2 366.9 L616.2 366.3 L618.1 365.0 L619.1 363.9 L620.6 361.6 L622.4 359.9 L624.1 357.9 L626.7 356.1 L628.8 355.3 L630.5 354.5 L632.7 354.1 L634.6 354.6 L636.7 355.1 L638.7 354.7 L641.3 354.2 L643.0 352.5 L645.0 350.5 L647.0 348.8 L648.6 348.0 L650.9 347.6 L652.4 347.5 L654.4 347.7 L656.6 347.9 L658.3 348.3 L660.9 348.3 L663.3 348.2 L664.6 347.2 L666.4 346.3 L668.2 345.0 L669.1 343.6 L671.4 343.2 L673.2 342.4 L675.7 342.6 L678.7 343.0 L681.2 343.1 L682.8 344.0 L684.1 344.1 L685.4 344.0 L686.8 343.7 L688.9 342.4 L690.6 341.5 L692.6 340.6 L695.0 339.9 L696.9 339.8 L699.1 339.4 L701.7 340.3 L703.6 340.2 L705.5 339.9 L707.8 339.8 L709.5 338.5 L711.7 338.1 L714.9 337.6 L717.0 336.7 L719.5 336.6 L721.5 336.6 L723.2 335.9 L725.7 336.7 L727.0 336.4 L729.2 336.7 L731.2 337.8 L733.1 337.6 L735.8 338.3 L738.0 338.2 L740.3 337.4 L741.7 336.3 L743.1 336.3 L745.1 335.7 L747.0 335.9 L749.8 336.9 L752.0 337.3 L753.7 337.8 L755.5 338.2 L757.4 339.0 L760.0 339.0 L762.2 339.2 L764.5 338.8 L766.2 337.5 L768.5 337.1 L771.2 336.7 L773.9 336.4 L775.9 337.2 L777.1 337.8 L778.5 338.9 L780.8 340.5 L783.4 340.8 L785.8 339.9 L787.6 338.9 L789.6 337.6 L791.3 336.7 L793.2 336.2 L795.6 336.7 L797.7 337.1 L800.2 338.4 L802.3 339.8 L804.4 340.1 L806.4 340.8 L808.5 341.2 L810.1 340.6 L812.5 340.0 L814.9 340.2 L817.4 340.4 L820.3 341.6 L822.1 343.3 L824.3 344.0 L826.0 345.1 L827.8 345.7 L829.7 345.8 L831.5 345.7 L832.5 345.4 L836.2 344.9 L837.0 345.1 L839.8 346.4 L841.6 346.5 L842.4 346.8 L843.8 347.6 L846.0 348.4 L847.4 349.7 L849.7 350.9 L851.7 351.7 L853.1 352.0 L855.6 352.2 L858.0 351.7 L860.0 351.5 L862.5 352.0 L865.0 352.7 L867.1 353.4 L869.2 354.8 L871.6 356.2 L873.3 357.1 L875.4 358.8 L877.1 359.7 L878.4 359.7 L880.0 360.2 L881.3 360.1 L884.0 359.5 L886.7 359.6 L889.0 360.5 L891.0 361.8 L892.2 363.5 L893.9 365.4 L895.4 366.4 L897.8 366.4 L899.9 367.0 L901.8 367.2 L903.8 366.6 L906.1 367.2 L908.0 367.4 L910.5 368.0 L912.1 369.7 L913.6 370.6 L915.3 371.7 L916.0 373.5 L918.2 374.9 L920.1 376.1 L921.9 377.7 L923.6 378.0 L925.7 378.6 L927.8 379.6 L930.0 379.8 L932.1 380.6 L933.1 381.9 L934.9 383.6 L936.1 385.8 L938.0 387.7 L940.4 388.3 L941.7 388.9 L944.6 389.3 L947.1 389.9 L948.9 389.8 L950.9 389.9 L952.6 390.5 L954.1 391.2 L955.8 393.4 L957.7 395.7 L958.8 396.8 L960.7 398.3 L962.5 399.3 L964.2 400.2 L966.5 401.2 L968.0 401.6 L970.1 402.1 L971.9 402.8 L973.4 404.4 L975.5 405.6 L976.5 407.9 L977.6 408.7 L978.8 410.9 L979.6 412.9 L980.6 413.9 L982.2 415.2 L983.4 415.7 L985.0 416.6 L986.9 418.2 L988.3 419.8 L989.7 421.1 L990.8 423.5 L992.0 424.6 L993.3 426.6 L994.0 428.9 L994.8 429.8 L995.6 431.7 L996.2 433.3 L998.9 434.3 L1001.2 435.8 L1003.2 437.0 L1005.6 438.4 L1006.3 440.3 L1007.4 441.9 L1008.2 443.5 L1008.5 445.3 L1009.8 447.3 L1011.4 448.8 L1013.1 450.3 L1015.2 451.2 L1017.1 451.9 L1018.6 453.2 L1020.3 455.3 L1022.0 457.0 L1022.5 458.3 L1023.3 460.5 L1024.2 462.2 L1024.6 463.7 L1026.2 466.2 L1027.9 467.3 L1029.6 468.9 L1031.4 470.4 L1032.7 471.4 L1034.1 473.2 L1035.8 474.7 L1037.0 477.0 L1037.8 478.6 L1038.4 480.7 L1038.9 482.5 L1040.2 484.5 L1040.8 487.2 L1041.5 488.7 L1042.8 490.5 L1045.1 492.0 L1046.1 493.5 L1047.5 494.9 L1048.9 496.8 L1048.5 498.8 L1050.2 500.4 L1050.7 502.9 L1051.1 504.7 L1051.7 506.4 L1052.5 508.0 L1053.8 509.6 L1055.4 511.0 L1056.8 512.0 L1058.5 513.5 L1059.5 514.8 L1060.1 516.5 L1061.1 518.9 L1061.0 520.7 L1060.9 522.4 L1061.0 524.8 L1060.8 526.7 L1061.7 530.0 L1063.0 532.4 L1064.7 534.3 L1067.0 536.1 L1068.4 537.2 L1069.8 538.7 L1070.8 540.3 L1070.9 542.5 L1070.5 544.3 L1070.9 546.6 L1071.1 550.1 L1072.4 551.2 L1074.1 553.5 L1075.6 556.0 L1076.7 557.0 L1077.6 559.2 L1078.8 561.4 L1079.3 563.7 L1079.7 565.5 L1079.7 567.9 L1079.7 570.0 L1080.0 572.0 L1080.3 574.4 L1081.4 575.9 L1082.4 577.3 L1084.1 578.5 L1086.0 580.4 L1086.4 583.2 L1087.2 585.5 L1086.9 588.2 L1086.5 590.6 L1087.1 592.4 L1086.8 594.6 L1087.3 595.7 L1088.2 597.4 L1089.2 598.8 L1091.0 600.3 L1092.7 602.3 L1093.6 603.9 L1094.5 607.1 L1094.5 608.9 L1094.2 611.0 L1093.7 612.6 L1093.3 614.0 L1093.6 616.8 L1093.9 618.6 L1095.2 621.1 L1096.7 622.2 L1098.0 623.9 L1099.7 625.9 L1100.6 627.3 L1101.2 630.5 L1101.1 632.5 L1100.3 635.1 L1099.8 637.9 L1099.4 639.6 L1099.8 642.2 L1100.3 643.7 L1101.4 646.1 L1102.6 648.2 L1103.6 649.8 L1104.9 652.9 L1105.9 654.0 L1106.0 656.6 L1106.0 658.7 L1105.0 660.3 L1104.1 662.7 L1103.3 663.7 L1103.6 665.4 L1104.1 666.8 L1104.9 668.6 L1106.1 672.0 L1106.9 674.4 L1107.0 677.2 L1107.4 679.8 L1107.3 680.7 L1106.4 683.0 L1106.7 685.0 L1106.7 686.9 L1106.5 689.3 L1106.2 690.7 L1106.8 692.3 L1107.3 694.7 L1108.3 697.3 L1109.4 700.4 L1109.3 702.7 L1109.2 704.6 L1109.4 706.8 L1109.2 708.6 L1109.0 710.6 L1109.3 712.4 L1109.5 714.0 L1112.5 712.6 L1112.4 710.9 L1112.1 707.7 L1111.8 703.9 L1110.9 700.9 L1112.9 698.2 L1116.1 698.8 L1116.9 702.3 L1117.4 706.3 L1117.9 708.7 L1117.8 711.3 L1119.6 713.3 L1121.2 715.3 L1122.4 718.0 L1123.7 718.7 L1122.7 718.6 L1122.4 719.1 L1122.5 717.6 L1122.8 716.3 L1123.4 714.8 L1124.7 712.8 L1126.7 710.2 L1127.8 707.6 L1128.6 704.8 L1127.8 702.2 L1126.8 699.6 L1126.9 697.5 L1126.5 695.3 L1126.8 693.1 L1128.1 691.2 L1128.6 688.7 L1129.4 687.0 L1131.0 685.2 L1130.7 683.5 L1131.1 682.2 L1130.7 680.6 L1129.5 678.2 L1129.6 675.8 L1129.2 673.3 L1130.2 670.1 L1131.1 668.2 L1132.2 666.3 L1132.5 665.4 L1133.0 664.6 L1134.7 662.8 L1135.1 660.2 L1135.6 657.8 L1135.3 655.4 L1134.2 653.2 L1133.9 651.5 L1134.2 649.4 L1134.7 647.1 L1134.9 644.2 L1135.8 641.7 L1136.5 639.9 L1137.4 637.9 L1138.6 636.7 L1138.8 634.8 L1138.7 632.4 L1138.1 629.9 L1137.3 627.3 L1136.5 624.6 L1136.7 621.9 L1137.4 620.1 L1138.4 618.5 L1139.4 617.2 L1140.0 616.2 L1140.7 614.9 L1141.0 612.7 L1141.0 610.2 L1141.1 606.9 L1140.9 603.6 L1140.9 601.5 L1141.8 599.4 L1142.7 597.5 L1143.8 595.9 L1144.9 594.0 L1145.8 593.1 L1146.1 591.7 L1146.6 589.5 L1147.7 587.7 L1148.6 585.3 L1149.1 583.2 L1149.9 581.7 L1150.2 579.2 L1150.4 577.6 L1151.9 575.3 L1153.6 572.8 L1154.4 571.8 L1156.2 569.2 L1156.7 568.0 L1157.7 566.2 L1159.0 563.4 L1158.4 561.5 L1159.0 558.9 L1158.4 557.1 L1158.2 555.5 L1159.5 553.9 L1159.9 551.8 L1162.0 549.8 L1164.0 547.6 L1165.6 545.7 L1167.1 544.4 L1167.3 542.8 L1167.1 541.4 L1167.6 539.2 L1167.9 536.6 L1168.2 533.9 L1168.9 531.7 L1169.3 530.0 L1170.4 528.6 L1171.6 527.5 L1172.8 525.7 L1174.6 524.6 L1175.7 522.9 L1176.4 520.7 L1176.8 519.0 L1177.2 516.9 L1176.7 514.7 L1177.4 512.6 L1178.6 510.4 L1180.2 508.4 L1182.2 507.2 L1184.0 506.1 L1185.7 504.4 L1187.1 502.6 L1188.5 500.8 L1189.6 498.7 L1190.2 496.9 L1190.2 494.3 L1191.1 492.4 L1192.1 490.0 L1193.1 488.1 L1194.5 487.0 L1195.7 486.3 L1197.0 485.4 L1198.5 483.7 L1200.7 482.0 L1201.5 479.9 L1202.3 477.7 L1203.5 476.4 L1204.2 474.1 L1205.8 471.9 L1207.6 470.4 L1209.2 468.2 L1211.0 466.7 L1213.4 465.7 L1215.1 464.7 L1216.6 463.9 L1218.4 463.2 L1219.3 461.7 L1220.1 459.5 L1221.3 458.1 L1222.4 455.5 L1223.4 453.8 L1225.4 452.9 L1227.3 451.6 L1229.1 450.4 L1232.1 450.2 L1234.0 449.0 L1235.0 447.9 L1237.3 447.0 L1237.5 445.1 L1238.7 442.1 L1240.5 439.3 L1241.2 437.5 L1242.8 436.2 L1244.9 435.5 L1246.6 435.3 L1249.0 435.7 L1250.9 435.6 L1252.6 435.1 L1254.8 433.6 L1256.1 431.2 L1257.8 429.8 L1259.2 428.4 L1261.9 427.7 L1264.7 427.4 L1266.9 426.4 L1269.4 426.3 L1271.2 426.0 L1273.6 425.9 L1275.6 425.5 L1278.0 424.5 L1279.2 423.3 L1280.3 421.9 L1282.7 419.3 L1284.1 417.1 L1286.4 416.4 L1288.9 415.4 L1291.1 416.2 L1293.1 416.6 L1295.0 416.2 L1296.8 416.2 L1298.6 415.8 L1300.8 415.5 L1302.8 414.7 L1304.8 413.9 L1306.3 412.8 L1308.2 412.5 L1310.5 411.6 L1311.9 411.2 L1314.3 411.2 L1315.7 410.9 L1317.7 411.5 L1319.6 411.1 L1321.8 410.5 L1323.7 409.1 L1325.3 407.4 L1327.5 405.6 L1328.9 404.6 L1331.1 403.7 L1333.8 403.2 L1335.8 403.9 L1337.7 404.8 L1339.7 405.6 L1340.9 406.8 L1343.5 406.8 L1346.1 406.1 L1348.7 405.6 L1351.8 403.8 L1353.4 402.0 L1355.2 401.1 L1356.3 399.8 L1357.1 399.7 L1359.0 399.9 L1360.7 400.0 L1363.1 400.6 L1365.6 400.1 L1367.5 399.5 L1369.2 398.1 L1371.0 395.7 L1373.2 393.6 L1374.9 391.2 L1377.4 389.7 L1379.3 389.5 L1381.0 390.6 L1382.9 392.6 L1383.9 395.4 L1385.8 397.2 L1387.1 398.1 L1389.3 398.2 L1391.8 396.9 L1394.3 395.4 L1396.6 394.5 L1398.5 394.0 L1400.8 393.1 L1402.3 393.3 L1404.8 393.6 L1407.3 394.4 L1409.5 396.8 L1411.7 398.0 L1413.6 399.3 L1415.4 398.9 L1417.4 397.3 L1419.8 395.3 L1422.3 393.0 L1424.0 391.7 L1426.2 391.5 L1428.2 392.1 L1430.8 393.9 L1433.6 396.0 L1435.5 397.7 L1437.5 398.0 L1439.1 397.9 L1441.0 397.0 L1442.7 395.1 L1444.4 394.9" fill="none" stroke="#0000ff" stroke-width="11.5" stroke-linecap="round" stroke-linejoin="round"/>
<polygon points="227,362 232,353 237,348.5 243,352 245,364 252,364 264,367 274,373 284,381 291,387 291,410 281,407 270,397 255,396 240,391 228,388" fill="#0000ff" stroke="#0000ff" stroke-width="2" stroke-linejoin="round"/>
<polygon points="410.9,627.2 410.9,660.7 416.7,666.5 418.1,672.3 424,673.7 425.4,679.6 431.2,681.7 434.1,676.6 434.9,663.6 437,634.5 441.4,633 447.2,633.8 453,627.2 454.5,605.4 447.2,601 444.3,602.5 438.5,608.3 428.3,621.4 426.1,631.6 421,633 418,630" fill="#0000ff" stroke="#0000ff" stroke-width="2" stroke-linejoin="round"/>
<polygon points="1100.4,643.6 1100.4,674.6 1105.6,681.5 1106.5,704 1107.3,717.8 1111.6,719.5 1116,717.8 1117.7,705.7 1119.4,721.3 1123.7,723 1128,721.3 1129.8,695.4 1134.1,678.1 1135,660.8 1136.7,647 1126.3,643.6 1119.4,647 1114.2,650.5 1110.8,659.1 1109,652" fill="#0000ff" stroke="#0000ff" stroke-width="2" stroke-linejoin="round"/>
<path d="M428.23 289.89 A23 56.3 0 1 0 427.79 332.15" fill="none" stroke="#000" stroke-width="2.5"/>
<path d="M373.7 574.6 L373.1 574.5 L372.3 574.4 L371.4 574.3 L370.4 574.1 L369.3 573.9 L368.1 573.8 L366.9 573.6 L365.8 573.3 L364.7 573.1 L363.6 572.9 L362.7 572.6 L361.5 572.2 L360.4 571.8 L359.4 571.3 L358.4 570.9 L357.4 570.4 L356.5 569.8 L355.7 569.3 L354.9 568.7 L354.1 568.0 L353.3 567.3 L352.6 566.6 L352.0 565.8 L351.5 565.0 L351.0 564.1 L350.5 563.2 L350.1 562.2 L349.7 561.2 L349.4 560.1 L349.2 559.0 L349.0 557.9 L348.8 556.7 L348.7 555.6 L348.6 554.6 L348.6 553.7 L348.6 552.7 L348.6 551.7 L348.7 550.7 L348.8 549.7 L348.9 548.7 L349.1 547.6 L349.3 546.6 L349.6 545.6 L349.8 544.5 L350.2 543.4 L350.5 542.3 L350.9 541.2 L351.3 540.2 L351.7 539.2 L352.2 538.2 L352.7 537.3 L353.2 536.5 L353.8 535.6 L354.4 534.8 L355.0 534.1 L355.7 533.3 L356.3 532.6 L357.1 531.8 L357.8 531.0 L358.5 530.3 L359.2 529.5 L360.0 528.8 L360.7 528.1 L361.5 527.3 L362.3 526.6 L363.2 525.9 L364.0 525.2 L364.9 524.5 L365.8 523.9 L366.6 523.3 L367.5 522.7 L368.4 522.2 L369.3 521.6 L370.3 521.1 L371.2 520.5 L372.2 520.0 L373.2 519.6 L374.1 519.1 L375.1 518.7 L376.1 518.3 L377.1 518.0 L378.1 517.6 L379.1 517.3 L380.2 517.1 L381.3 516.8 L382.3 516.6 L383.3 516.4 L384.4 516.3 L385.3 516.1 L386.3 516.0 L387.2 515.9 L388.4 515.8 L389.5 515.8 L390.5 515.8 L391.5 515.8 L392.5 515.9 L393.4 516.0 L394.4 516.2 L395.4 516.3 L396.4 516.5 L397.4 516.6 L398.4 516.8 L399.4 517.0 L400.4 517.3 L401.4 517.6 L402.3 517.9 L403.2 518.3 L404.2 518.8 L405.1 519.4 L406.0 520.0 L406.8 520.7 L407.7 521.5 L408.5 522.2 L409.3 523.0 L410.0 523.7 L410.7 524.4 L411.5 525.2 L412.2 526.0 L412.9 526.8 L413.5 527.6 L414.1 528.4 L414.6 529.3 L415.1 530.2 L415.5 531.2 L415.9 532.2 L416.2 533.2 L416.5 534.2 L416.7 535.2 L416.9 536.1 L417.1 537.0 L417.2 538.2 L417.2 539.3 L417.1 540.4 L416.9 541.4 L416.7 542.5 L416.5 543.5 L416.2 544.5 L415.9 545.5 L415.6 546.5 L415.2 547.5 L414.7 548.5 L414.1 549.5 L413.5 550.5 L412.7 551.4 L412.0 552.3 L411.4 553.1 L411.0 553.6" fill="none" stroke="#000" stroke-width="2.5" stroke-linecap="butt"/>
<path d="M670.7 214.5L695.9 341.7M680.1 320.8L695.9 341.7L704.2 316" fill="none" stroke="#000" stroke-width="4.8" stroke-linecap="butt" stroke-linejoin="miter"/>
<path d="M784 180.3L758.1 324.7M750.3 299L758.1 324.7L773.9 302.6" fill="none" stroke="#000" stroke-width="4.8" stroke-linecap="butt" stroke-linejoin="miter"/>
<path d="M862 248.8L802.9 332.8M806.5 307.3L802.9 332.8L826.5 320.8" fill="none" stroke="#000" stroke-width="4.8" stroke-linecap="butt" stroke-linejoin="miter"/>
<path d="M710.1 771.3L735.3 626.4M719.5 647.3L735.3 626.4L744.3 652" fill="none" stroke="#000" stroke-width="4.8" stroke-linecap="butt" stroke-linejoin="miter"/>
<path d="M810 812.6L792.6 702.0M784.5 727.6L792.6 702.0L808 723.6" fill="none" stroke="#000" stroke-width="4.8" stroke-linecap="butt" stroke-linejoin="miter"/>
<path d="M904.4 751.9L844.3 649.5M847 675.6L844.3 649.5L868.3 663.8" fill="none" stroke="#000" stroke-width="4.8" stroke-linecap="butt" stroke-linejoin="miter"/>
<text transform="translate(117.54,72.00) scale(0.9662,1)" font-size="76" fill="#000">-20</text>
<text transform="translate(117.54,216.00) scale(0.9662,1)" font-size="76" fill="#000">-30</text>
<text transform="translate(117.54,360.00) scale(0.9662,1)" font-size="76" fill="#000">-40</text>
<text transform="translate(117.54,504.00) scale(0.9662,1)" font-size="76" fill="#000">-50</text>
<text transform="translate(117.54,648.00) scale(0.9662,1)" font-size="76" fill="#000">-60</text>
<text transform="translate(117.54,792.00) scale(0.9662,1)" font-size="76" fill="#000">-70</text>
<text transform="translate(117.54,936.00) scale(0.9662,1)" font-size="76" fill="#000">-80</text>
<text transform="translate(154.51,981.30) scale(0.9307,1)" font-size="76" fill="#000">1520</text>
<text transform="translate(499.65,981.30) scale(0.9307,1)" font-size="76" fill="#000">1540</text>
<text transform="translate(844.79,981.30) scale(0.9307,1)" font-size="76" fill="#000">1560</text>
<text transform="translate(1189.93,981.30) scale(0.9307,1)" font-size="76" fill="#000">1580</text>
<text transform="translate(557.18,1071.00) scale(0.9719,1)" font-size="76" fill="#000">Wavelength (nm)</text>
<text transform="translate(76.00,793.63) rotate(-90) scale(0.9550,1)" font-size="76" fill="#000">Transmittance (dB)</text>
<text transform="translate(282.96,224.00) scale(0.9533,1)" font-size="76" fill="#000">Forward</text>
<text transform="translate(282.66,768.00) scale(0.9530,1)" font-size="76" fill="#000">Backward</text>
<text transform="translate(575.68,207.20) scale(0.9749,1)" font-size="63" fill="#008000">60</text>
<circle cx="655.3" cy="166.9" r="7.3" fill="none" stroke="#008000" stroke-width="3.2"/>
<text transform="translate(662.55,207.20) scale(0.9849,1)" font-size="59" fill="#008000">C</text>
<text transform="translate(740.53,164.20) scale(0.9491,1)" font-size="63" fill="#ff0000">40</text>
<circle cx="818.4" cy="123.9" r="7.3" fill="none" stroke="#ff0000" stroke-width="3.2"/>
<text transform="translate(825.65,164.20) scale(0.9849,1)" font-size="59" fill="#ff0000">C</text>
<text transform="translate(826.91,241.20) scale(0.9745,1)" font-size="63" fill="#0000ff">20</text>
<circle cx="906.5" cy="200.9" r="7.3" fill="none" stroke="#0000ff" stroke-width="3.2"/>
<text transform="translate(913.75,241.20) scale(0.9849,1)" font-size="59" fill="#0000ff">C</text>
<text transform="translate(619.41,828.60) scale(0.9745,1)" font-size="63" fill="#0000ff">20</text>
<circle cx="699.0" cy="788.3" r="7.3" fill="none" stroke="#0000ff" stroke-width="3.2"/>
<text transform="translate(706.25,828.60) scale(0.9849,1)" font-size="59" fill="#0000ff">C</text>
<text transform="translate(765.23,879.60) scale(0.9491,1)" font-size="63" fill="#ff0000">40</text>
<circle cx="843.1" cy="839.3" r="7.3" fill="none" stroke="#ff0000" stroke-width="3.2"/>
<text transform="translate(850.35,879.60) scale(0.9849,1)" font-size="59" fill="#ff0000">C</text>
<text transform="translate(893.98,820.20) scale(0.9749,1)" font-size="63" fill="#008000">60</text>
<circle cx="973.6" cy="779.9" r="7.3" fill="none" stroke="#008000" stroke-width="3.2"/>
<text transform="translate(980.85,820.20) scale(0.9849,1)" font-size="59" fill="#008000">C</text></svg>
</body></html>
